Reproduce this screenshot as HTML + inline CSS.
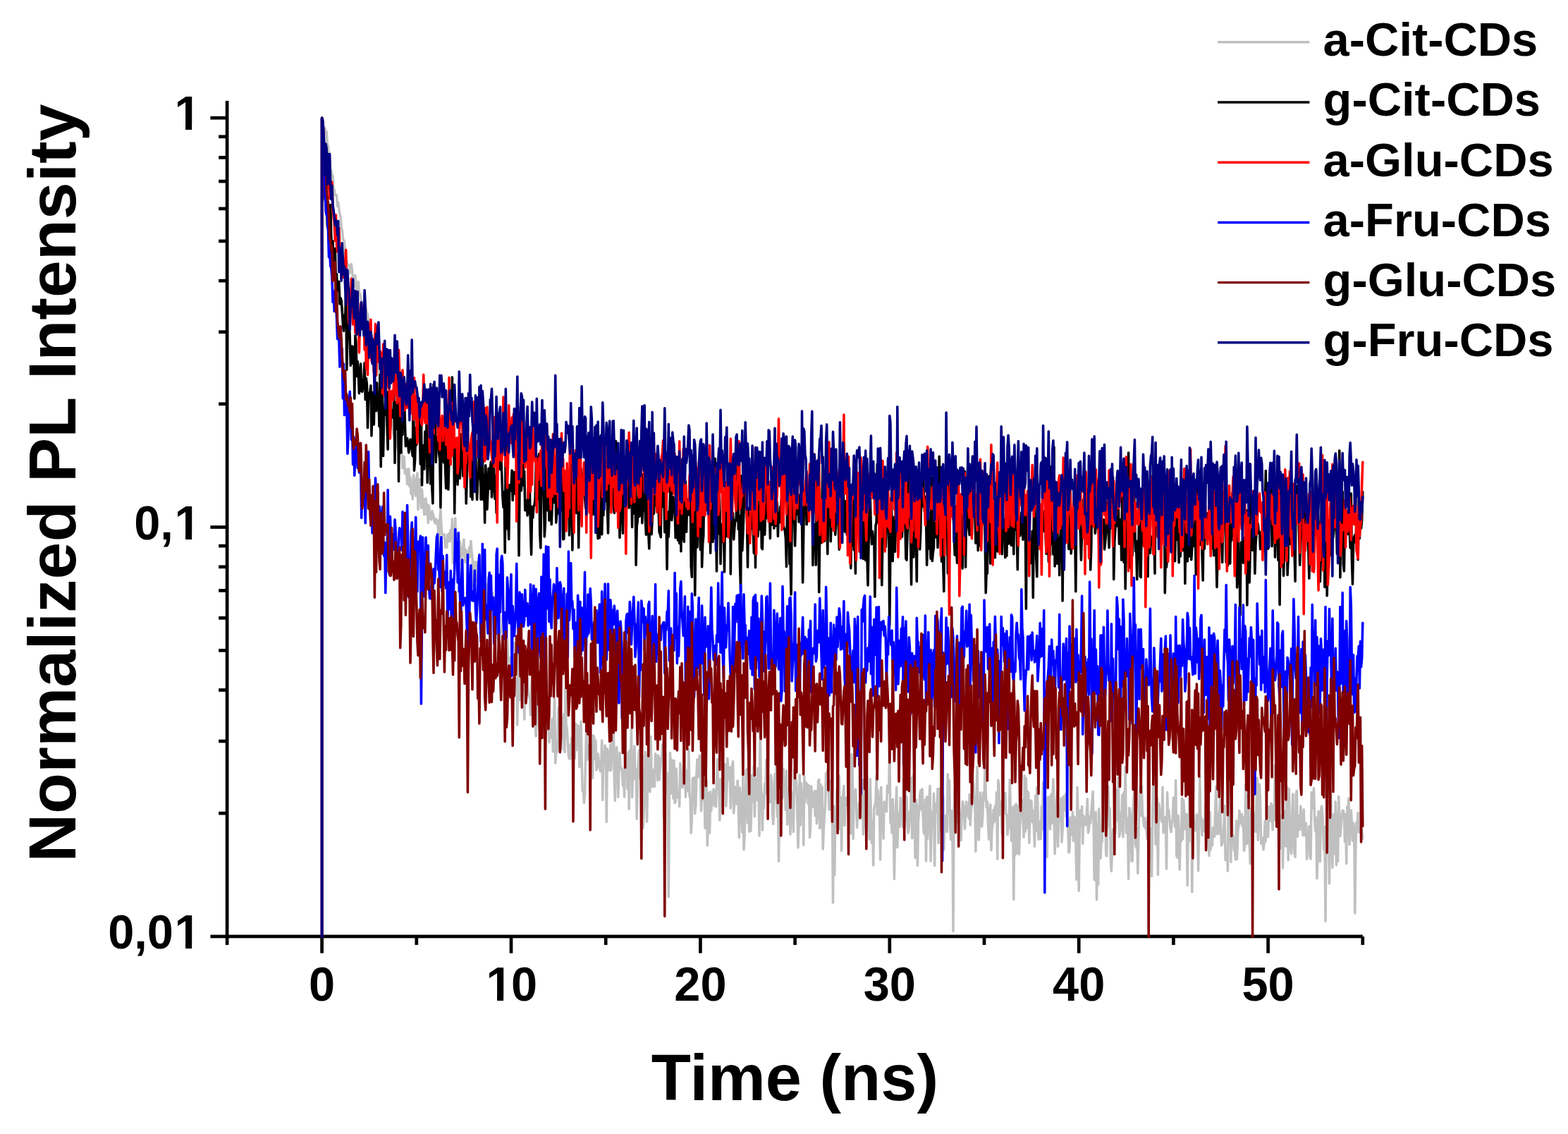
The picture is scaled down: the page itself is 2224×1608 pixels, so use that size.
<!DOCTYPE html>
<html lang="en"><head><meta charset="utf-8"><title>Normalized PL Intensity vs Time</title>
<style>html,body{margin:0;padding:0;background:#fff;}body{width:2224px;height:1608px;overflow:hidden;}svg{display:block;}text{font-family:"Liberation Sans",sans-serif;font-weight:bold;fill:#000;}</style></head><body>
<svg width="2224" height="1608" viewBox="0 0 2224 1608">
<rect width="2224" height="1608" fill="#fff"/>
<g stroke="#000" stroke-width="4.7" fill="none" stroke-linecap="butt">
<line x1="322.1" y1="143.0" x2="322.1" y2="1330.25"/>
<line x1="319.75" y1="1327.9" x2="1932.8" y2="1327.9"/>
<line x1="298.4" y1="167.2" x2="322.1" y2="167.2"/>
<line x1="310.1" y1="572.8" x2="322.1" y2="572.8"/>
<line x1="310.1" y1="470.7" x2="322.1" y2="470.7"/>
<line x1="310.1" y1="398.1" x2="322.1" y2="398.1"/>
<line x1="310.1" y1="341.9" x2="322.1" y2="341.9"/>
<line x1="310.1" y1="295.9" x2="322.1" y2="295.9"/>
<line x1="310.1" y1="257.1" x2="322.1" y2="257.1"/>
<line x1="310.1" y1="223.4" x2="322.1" y2="223.4"/>
<line x1="310.1" y1="193.8" x2="322.1" y2="193.8"/>
<line x1="298.4" y1="747.5" x2="322.1" y2="747.5"/>
<line x1="310.1" y1="1153.2" x2="322.1" y2="1153.2"/>
<line x1="310.1" y1="1051.0" x2="322.1" y2="1051.0"/>
<line x1="310.1" y1="978.5" x2="322.1" y2="978.5"/>
<line x1="310.1" y1="922.3" x2="322.1" y2="922.3"/>
<line x1="310.1" y1="876.3" x2="322.1" y2="876.3"/>
<line x1="310.1" y1="837.4" x2="322.1" y2="837.4"/>
<line x1="310.1" y1="803.8" x2="322.1" y2="803.8"/>
<line x1="310.1" y1="774.1" x2="322.1" y2="774.1"/>
<line x1="298.4" y1="1327.9" x2="322.1" y2="1327.9"/>
<line x1="322.1" y1="1327.9" x2="322.1" y2="1339.9"/>
<line x1="456.6" y1="1327.9" x2="456.6" y2="1351.6"/>
<line x1="590.8" y1="1327.9" x2="590.8" y2="1339.9"/>
<line x1="725.0" y1="1327.9" x2="725.0" y2="1351.6"/>
<line x1="859.2" y1="1327.9" x2="859.2" y2="1339.9"/>
<line x1="993.4" y1="1327.9" x2="993.4" y2="1351.6"/>
<line x1="1127.6" y1="1327.9" x2="1127.6" y2="1339.9"/>
<line x1="1261.8" y1="1327.9" x2="1261.8" y2="1351.6"/>
<line x1="1396.0" y1="1327.9" x2="1396.0" y2="1339.9"/>
<line x1="1530.2" y1="1327.9" x2="1530.2" y2="1351.6"/>
<line x1="1664.4" y1="1327.9" x2="1664.4" y2="1339.9"/>
<line x1="1798.6" y1="1327.9" x2="1798.6" y2="1351.6"/>
<line x1="1932.8" y1="1327.9" x2="1932.8" y2="1339.9"/>
</g>
<g id="traces">
<polyline points="456.6,1327.9 456.6,167.2 457.7,174.7 458.8,179.0 459.9,186.3 461.0,181.7 462.1,201.8 463.2,186.8 464.3,204.4 465.4,207.0 466.5,217.7 467.6,216.9 468.7,243.2 469.8,241.7 470.9,249.7 472.0,249.2 473.1,269.2 474.2,268.7 475.3,276.9 476.4,275.9 477.5,277.0 478.6,292.6 479.7,287.0 480.8,295.9 481.9,304.1 483.0,307.5 484.1,323.1 485.2,325.5 486.3,337.9 487.4,341.0 488.5,343.1 489.6,358.5 490.7,363.9 491.8,370.3 492.9,374.9 494.0,377.1 495.1,376.0 496.2,387.3 497.3,381.1 498.4,374.6 499.5,384.4 500.6,394.5 501.7,403.0 502.8,405.2 503.9,390.5 505.0,405.4 506.1,413.6 507.2,410.4 508.3,399.4 509.4,417.0 510.5,416.2 511.6,421.6 512.7,429.6 513.8,438.9 514.9,435.7 516.0,437.6 517.1,434.4 518.2,435.4 519.3,437.7 520.4,445.8 521.5,445.0 522.6,463.6 523.7,452.4 524.8,463.6 525.9,475.7 527.0,474.3 528.1,484.4 529.2,479.2 530.3,481.1 531.4,480.6 532.5,517.6 533.6,523.4 534.7,520.0 535.8,519.1 536.9,517.8 538.0,527.5 539.1,554.7 540.2,542.3 541.3,535.8 542.4,545.9 543.5,545.1 544.6,559.2 545.7,563.4 546.8,563.9 547.9,566.0 549.0,572.5 550.1,577.8 551.2,590.5 552.3,583.8 553.4,590.9 554.5,584.6 555.6,588.2 556.7,603.4 557.8,613.3 558.9,619.8 560.0,611.4 561.1,618.7 562.2,626.9 563.3,626.0 564.4,637.1 565.5,625.4 566.6,642.1 567.7,626.2 568.8,639.0 569.9,640.1 571.0,663.6 572.1,651.3 573.2,647.6 574.3,671.5 575.4,666.1 576.5,665.6 577.6,686.6 578.7,668.3 579.8,664.9 580.9,689.6 582.0,677.2 583.1,700.4 584.2,685.3 585.3,707.8 586.4,673.7 587.5,684.3 588.6,691.5 589.7,703.0 590.8,678.0 591.9,670.9 593.0,722.8 594.1,683.1 595.2,679.7 596.3,697.8 597.4,720.2 598.5,694.1 599.6,710.1 600.7,718.4 601.8,729.8 602.9,707.8 604.0,707.0 605.1,728.9 606.2,715.6 607.3,741.5 608.4,716.7 609.5,729.6 610.6,735.4 611.7,736.8 612.8,724.7 613.9,727.9 615.0,732.5 616.1,739.6 617.2,742.0 618.3,735.8 619.4,742.8 620.5,737.9 621.6,753.8 622.7,788.3 623.8,737.4 624.9,722.6 626.0,748.0 627.1,756.9 628.2,758.4 629.3,759.0 630.4,758.0 631.5,776.3 632.6,767.9 633.7,776.3 634.8,758.3 635.9,767.4 637.0,756.5 638.1,767.5 639.2,751.2 640.3,763.5 641.4,735.9 642.5,798.6 643.6,779.5 644.7,757.0 645.8,734.7 646.9,776.2 648.0,772.7 649.1,777.8 650.2,755.7 651.3,781.4 652.4,767.9 653.5,784.6 654.6,801.3 655.7,777.4 656.8,775.8 657.9,765.1 659.0,787.9 660.1,797.4 661.2,780.0 662.3,786.4 663.4,787.0 664.5,793.9 665.6,776.0 666.7,789.6 667.8,767.3 668.9,780.9 670.0,790.4 671.1,831.0 672.2,796.4 673.3,801.8 674.4,798.1 675.5,796.9 676.6,823.2 677.7,805.4 678.8,831.2 679.9,792.4 681.0,850.1 682.1,860.7 683.2,861.4 684.3,850.2 685.4,857.0 686.5,806.9 687.6,848.0 688.7,869.3 689.8,828.3 690.9,861.0 692.0,876.1 693.1,840.6 694.2,847.7 695.3,869.7 696.4,839.5 697.5,864.9 698.6,841.2 699.7,863.7 700.8,847.5 701.9,876.5 703.0,905.3 704.1,840.1 705.2,897.6 706.3,893.7 707.4,906.5 708.5,899.4 709.6,893.5 710.7,897.1 711.8,891.0 712.9,872.5 714.0,911.9 715.1,938.1 716.2,939.9 717.3,931.8 718.4,956.8 719.5,906.9 720.6,936.9 721.7,935.7 722.8,932.1 723.9,965.5 725.0,956.4 726.1,926.3 727.2,930.2 728.3,955.8 729.4,911.5 730.5,981.4 731.6,962.2 732.7,962.5 733.8,1028.0 734.9,922.0 736.0,957.6 737.1,993.0 738.2,927.5 739.3,961.1 740.4,967.3 741.5,993.7 742.6,978.6 743.7,1019.9 744.8,966.2 745.9,994.8 747.0,984.4 748.1,961.9 749.2,984.1 750.3,986.3 751.4,987.6 752.5,1013.6 753.6,977.8 754.7,963.6 755.8,982.7 756.9,981.4 758.0,1025.7 759.1,1027.1 760.2,1043.9 761.3,979.7 762.4,1016.6 763.5,979.0 764.6,1033.4 765.7,1026.2 766.8,1014.5 767.9,996.1 769.0,1018.6 770.1,1016.4 771.2,1022.9 772.3,1020.5 773.4,1056.0 774.5,1026.2 775.6,1034.6 776.7,1032.9 777.8,1020.7 778.9,1052.7 780.0,1038.5 781.1,1045.7 782.2,1028.1 783.3,1019.5 784.4,1065.7 785.5,1025.6 786.6,990.7 787.7,1082.2 788.8,1064.6 789.9,1066.6 791.0,1050.8 792.1,1003.6 793.2,1044.2 794.3,1063.8 795.4,1029.7 796.5,1062.4 797.6,1018.3 798.7,1039.4 799.8,1012.9 800.9,1066.5 802.0,976.2 803.1,1028.5 804.2,1033.3 805.3,1052.2 806.4,1071.3 807.5,1075.9 808.6,1056.2 809.7,1075.1 810.8,1046.3 811.9,1077.1 813.0,1038.6 814.1,1030.6 815.2,1075.5 816.3,1025.8 817.4,1063.7 818.5,1027.8 819.6,1046.7 820.7,1029.8 821.8,1087.5 822.9,1063.0 824.0,1023.2 825.1,1078.4 826.2,1121.7 827.3,1119.4 828.4,1138.4 829.5,1126.1 830.6,1075.5 831.7,1031.3 832.8,1077.5 833.9,1057.1 835.0,1069.4 836.1,1066.7 837.2,1072.2 838.3,1072.9 839.4,1056.2 840.5,1103.2 841.6,1042.9 842.7,1045.8 843.8,1076.4 844.9,1049.9 846.0,1092.1 847.1,1087.9 848.2,1069.0 849.3,1079.1 850.4,1086.9 851.5,1093.8 852.6,1090.8 853.7,1050.0 854.8,1134.4 855.9,1066.4 857.0,1083.2 858.1,1057.1 859.2,1063.2 860.3,1165.4 861.4,1062.1 862.5,1069.5 863.6,1078.3 864.7,1092.7 865.8,1056.4 866.9,1091.9 868.0,1032.0 869.1,1065.3 870.2,1025.3 871.3,1104.6 872.4,1135.4 873.5,1062.8 874.6,1059.5 875.7,1082.3 876.8,1130.1 877.9,1097.0 879.0,1067.3 880.1,1090.2 881.2,1088.6 882.3,1090.7 883.4,1113.7 884.5,1102.0 885.6,1130.0 886.7,1039.8 887.8,1101.5 888.9,1074.7 890.0,1119.0 891.1,1066.8 892.2,1147.3 893.3,1064.1 894.4,1091.1 895.5,1034.1 896.6,1130.5 897.7,1089.1 898.8,1081.2 899.9,1058.1 901.0,1104.9 902.1,1090.4 903.2,1161.1 904.3,1118.5 905.4,1081.2 906.5,1063.7 907.6,1103.1 908.7,1039.8 909.8,1047.7 910.9,1097.8 912.0,1174.3 913.1,1152.6 914.2,1120.7 915.3,1066.4 916.4,1089.1 917.5,1165.3 918.6,1105.6 919.7,1054.7 920.8,1110.8 921.9,1122.7 923.0,1044.5 924.1,1099.3 925.2,1115.6 926.3,1091.5 927.4,1101.5 928.5,1115.3 929.6,1068.7 930.7,1071.5 931.8,1079.4 932.9,1106.8 934.0,1071.5 935.1,1105.8 936.2,1091.1 937.3,1075.5 938.4,1082.0 939.5,1055.9 940.6,1092.7 941.7,1159.8 942.8,1142.6 943.9,1068.6 945.0,1117.0 946.1,1096.0 947.2,1133.9 948.3,1271.7 949.4,1119.9 950.5,1067.4 951.6,1125.1 952.7,1077.2 953.8,1089.9 954.9,1132.0 956.0,1078.6 957.1,1138.4 958.2,1136.2 959.3,1090.0 960.4,1130.5 961.5,1129.9 962.6,1122.4 963.7,1143.5 964.8,1082.3 965.9,1095.0 967.0,1115.2 968.1,1116.7 969.2,1100.4 970.3,1064.2 971.4,1088.9 972.5,1130.3 973.6,1092.2 974.7,1118.9 975.8,1121.6 976.9,1063.2 978.0,1129.1 979.1,1131.3 980.2,1181.2 981.3,1162.2 982.4,1103.9 983.5,1139.4 984.6,1102.6 985.7,1153.8 986.8,1142.7 987.9,1098.9 989.0,1077.1 990.1,1101.9 991.2,1084.9 992.3,1071.4 993.4,1089.9 994.5,1149.9 995.6,1124.3 996.7,1102.5 997.8,1134.6 998.9,1108.4 1000.0,1174.1 1001.1,1148.9 1002.2,1107.0 1003.3,1199.1 1004.4,1159.1 1005.5,1124.3 1006.6,1181.1 1007.7,1122.5 1008.8,1149.7 1009.9,1133.5 1011.0,1132.6 1012.1,1118.8 1013.2,1142.5 1014.3,1122.0 1015.4,1143.9 1016.5,1108.2 1017.6,1076.2 1018.7,1119.2 1019.8,1120.1 1020.9,1163.1 1022.0,1104.7 1023.1,1149.7 1024.2,1151.5 1025.3,1109.0 1026.4,1120.3 1027.5,1093.2 1028.6,1083.9 1029.7,1143.2 1030.8,1122.3 1031.9,1075.5 1033.0,1097.7 1034.1,1105.1 1035.2,1088.3 1036.3,1145.9 1037.4,1107.7 1038.5,1085.7 1039.6,1079.9 1040.7,1152.9 1041.8,1135.1 1042.9,1115.7 1044.0,1136.5 1045.1,1139.9 1046.2,1107.0 1047.3,1138.8 1048.4,1187.8 1049.5,1116.9 1050.6,1141.4 1051.7,1151.5 1052.8,1180.2 1053.9,1098.1 1055.0,1204.8 1056.1,1185.3 1057.2,1137.3 1058.3,1092.4 1059.4,1090.2 1060.5,1166.6 1061.6,1134.5 1062.7,1179.2 1063.8,1099.0 1064.9,1178.2 1066.0,1133.9 1067.1,1098.7 1068.2,1136.6 1069.3,1086.5 1070.4,1157.9 1071.5,1118.6 1072.6,1104.3 1073.7,1134.4 1074.8,1089.3 1075.9,1113.6 1077.0,1185.2 1078.1,1023.5 1079.2,1110.9 1080.3,1127.3 1081.4,1177.1 1082.5,1128.3 1083.6,1145.6 1084.7,1111.5 1085.8,1119.7 1086.9,1077.4 1088.0,1126.9 1089.1,1115.7 1090.2,1120.1 1091.3,1136.3 1092.4,1137.5 1093.5,1098.9 1094.6,1108.3 1095.7,1152.2 1096.8,1168.6 1097.9,1134.3 1099.0,1097.6 1100.1,1133.3 1101.2,1081.5 1102.3,1157.7 1103.4,1128.3 1104.5,1221.3 1105.6,1152.0 1106.7,1142.8 1107.8,1117.4 1108.9,1083.1 1110.0,1132.2 1111.1,1090.4 1112.2,1113.3 1113.3,1103.9 1114.4,1148.6 1115.5,1092.7 1116.6,1169.1 1117.7,1118.8 1118.8,1165.2 1119.9,1150.8 1121.0,1183.2 1122.1,1150.9 1123.2,1123.6 1124.3,1136.7 1125.4,1179.6 1126.5,1091.1 1127.6,1124.4 1128.7,1104.5 1129.8,1111.1 1130.9,1156.6 1132.0,1202.0 1133.1,1165.3 1134.2,1098.7 1135.3,1170.2 1136.4,1110.8 1137.5,1155.5 1138.6,1123.6 1139.7,1198.3 1140.8,1100.9 1141.9,1137.4 1143.0,1109.3 1144.1,1130.4 1145.2,1112.1 1146.3,1139.7 1147.4,1113.9 1148.5,1187.6 1149.6,1172.5 1150.7,1114.7 1151.8,1138.2 1152.9,1144.4 1154.0,1142.9 1155.1,1121.8 1156.2,1156.6 1157.3,1121.7 1158.4,1167.7 1159.5,1150.8 1160.6,1107.9 1161.7,1105.4 1162.8,1174.4 1163.9,1112.4 1165.0,1172.6 1166.1,1115.8 1167.2,1203.9 1168.3,1175.6 1169.4,1155.0 1170.5,1144.0 1171.6,1096.2 1172.7,1111.2 1173.8,1092.1 1174.9,1102.6 1176.0,1148.2 1177.1,1147.8 1178.2,1106.9 1179.3,1138.2 1180.4,1144.5 1181.5,1279.9 1182.6,1143.1 1183.7,1241.1 1184.8,1154.7 1185.9,1172.5 1187.0,1118.7 1188.1,1155.7 1189.2,1150.9 1190.3,1099.9 1191.4,1175.4 1192.5,1130.7 1193.6,1206.4 1194.7,1138.0 1195.8,1128.1 1196.9,1114.6 1198.0,1170.8 1199.1,1131.2 1200.2,1131.3 1201.3,1142.0 1202.4,1136.7 1203.5,1127.1 1204.6,1129.2 1205.7,1174.9 1206.8,1182.1 1207.9,1069.4 1209.0,1085.3 1210.1,1189.4 1211.2,1128.2 1212.3,1122.9 1213.4,1119.2 1214.5,1138.1 1215.6,1173.5 1216.7,1148.6 1217.8,1158.9 1218.9,1138.7 1220.0,1151.7 1221.1,1147.4 1222.2,1112.0 1223.3,1105.9 1224.4,1183.2 1225.5,1158.5 1226.6,1169.8 1227.7,1106.5 1228.8,1145.7 1229.9,1100.2 1231.0,1159.6 1232.1,1143.3 1233.2,1190.1 1234.3,1104.7 1235.4,1156.2 1236.5,1195.4 1237.6,1164.1 1238.7,1227.1 1239.8,1145.8 1240.9,1141.3 1242.0,1135.9 1243.1,1099.9 1244.2,1155.0 1245.3,1120.2 1246.4,1135.5 1247.5,1151.7 1248.6,1219.0 1249.7,1116.4 1250.8,1162.3 1251.9,1145.3 1253.0,1189.2 1254.1,1137.1 1255.2,1142.7 1256.3,1145.3 1257.4,1150.7 1258.5,1114.1 1259.6,1116.7 1260.7,1124.0 1261.8,1052.5 1262.9,1166.7 1264.0,1159.4 1265.1,1181.2 1266.2,1133.4 1267.3,1170.1 1268.4,1246.4 1269.5,1188.7 1270.6,1145.2 1271.7,1116.4 1272.8,1201.6 1273.9,1168.1 1275.0,1152.4 1276.1,1172.3 1277.2,1131.4 1278.3,1148.1 1279.4,1138.1 1280.5,1172.6 1281.6,1101.9 1282.7,1148.6 1283.8,1109.1 1284.9,1163.3 1286.0,1130.3 1287.1,1171.6 1288.2,1181.2 1289.3,1172.7 1290.4,1150.8 1291.5,1156.5 1292.6,1102.7 1293.7,1188.7 1294.8,1186.7 1295.9,1098.4 1297.0,1130.7 1298.1,1216.5 1299.2,1134.3 1300.3,1142.6 1301.4,1227.2 1302.5,1162.5 1303.6,1151.0 1304.7,1127.6 1305.8,1120.9 1306.9,1147.7 1308.0,1118.7 1309.1,1155.7 1310.2,1180.0 1311.3,1182.8 1312.4,1134.0 1313.5,1221.1 1314.6,1130.0 1315.7,1189.3 1316.8,1163.5 1317.9,1135.7 1319.0,1114.2 1320.1,1221.0 1321.2,1179.2 1322.3,1150.5 1323.4,1172.1 1324.5,1125.3 1325.6,1227.4 1326.7,1140.9 1327.8,1139.0 1328.9,1151.1 1330.0,1118.5 1331.1,1195.3 1332.2,1118.5 1333.3,1176.7 1334.4,1130.3 1335.5,1164.0 1336.6,1127.7 1337.7,1128.9 1338.8,1204.7 1339.9,1158.8 1341.0,1156.8 1342.1,1161.7 1343.2,1179.4 1344.3,1097.9 1345.4,1147.3 1346.5,1106.4 1347.6,1173.2 1348.7,1190.6 1349.8,1149.9 1350.9,1173.1 1352.0,1320.4 1353.1,1146.4 1354.2,1118.5 1355.3,1161.9 1356.4,1165.3 1357.5,1155.6 1358.6,1143.2 1359.7,1127.9 1360.8,1158.7 1361.9,1177.7 1363.0,1191.4 1364.1,1157.4 1365.2,1136.6 1366.3,1140.3 1367.4,1155.6 1368.5,1175.2 1369.6,1150.3 1370.7,1136.9 1371.8,1156.4 1372.9,1151.6 1374.0,1160.2 1375.1,1126.5 1376.2,1170.0 1377.3,1149.4 1378.4,1142.8 1379.5,1132.5 1380.6,1109.5 1381.7,1134.1 1382.8,1136.5 1383.9,1207.3 1385.0,1136.4 1386.1,1087.2 1387.2,1184.1 1388.3,1190.9 1389.4,1163.1 1390.5,1123.9 1391.6,1139.2 1392.7,1172.1 1393.8,1157.3 1394.9,1123.6 1396.0,1134.8 1397.1,1083.9 1398.2,1124.7 1399.3,1145.0 1400.4,1136.8 1401.5,1168.1 1402.6,1190.1 1403.7,1151.0 1404.8,1140.9 1405.9,1205.5 1407.0,1174.3 1408.1,1169.1 1409.2,1148.2 1410.3,1165.5 1411.4,1142.6 1412.5,1153.8 1413.6,1123.7 1414.7,1218.0 1415.8,1106.3 1416.9,1113.2 1418.0,1155.6 1419.1,1136.5 1420.2,1137.9 1421.3,1182.4 1422.4,1152.0 1423.5,1132.7 1424.6,1147.5 1425.7,1124.5 1426.8,1154.5 1427.9,1155.0 1429.0,1183.8 1430.1,1169.9 1431.2,1173.2 1432.3,1105.5 1433.4,1150.1 1434.5,1192.4 1435.6,1145.1 1436.7,1164.4 1437.8,1275.4 1438.9,1142.7 1440.0,1213.1 1441.1,1139.7 1442.2,1191.3 1443.3,1209.7 1444.4,1142.4 1445.5,1211.2 1446.6,1173.5 1447.7,1151.9 1448.8,1138.9 1449.9,1134.8 1451.0,1159.9 1452.1,1187.2 1453.2,1100.1 1454.3,1179.3 1455.4,1103.6 1456.5,1174.1 1457.6,1122.5 1458.7,1125.3 1459.8,1195.2 1460.9,1147.6 1462.0,1135.0 1463.1,1136.8 1464.2,1165.9 1465.3,1149.5 1466.4,1172.6 1467.5,1200.2 1468.6,1128.3 1469.7,1178.4 1470.8,1116.5 1471.9,1140.2 1473.0,1190.3 1474.1,1165.0 1475.2,1169.3 1476.3,1189.7 1477.4,1143.6 1478.5,1176.0 1479.6,1109.5 1480.7,1132.6 1481.8,1190.3 1482.9,1160.7 1484.0,1167.7 1485.1,1215.8 1486.2,1130.6 1487.3,1130.1 1488.4,1130.9 1489.5,1175.8 1490.6,1126.6 1491.7,1167.5 1492.8,1130.8 1493.9,1104.9 1495.0,1156.0 1496.1,1210.8 1497.2,1171.3 1498.3,1140.1 1499.4,1122.4 1500.5,1200.4 1501.6,1167.3 1502.7,1153.3 1503.8,1146.9 1504.9,1132.0 1506.0,1193.9 1507.1,1175.4 1508.2,1129.2 1509.3,1148.5 1510.4,1146.7 1511.5,1125.8 1512.6,1157.9 1513.7,1144.3 1514.8,1172.0 1515.9,1209.0 1517.0,1207.2 1518.1,1159.2 1519.2,1168.3 1520.3,1184.1 1521.4,1151.4 1522.5,1192.5 1523.6,1158.2 1524.7,1162.6 1525.8,1190.9 1526.9,1247.3 1528.0,1116.6 1529.1,1151.7 1530.2,1263.2 1531.3,1176.6 1532.4,1149.4 1533.5,1169.9 1534.6,1143.6 1535.7,1196.2 1536.8,1156.7 1537.9,1164.3 1539.0,1168.7 1540.1,1170.0 1541.2,1156.1 1542.3,1132.9 1543.4,1180.8 1544.5,1176.6 1545.6,1157.5 1546.7,1166.9 1547.8,1150.3 1548.9,1139.8 1550.0,1122.4 1551.1,1167.0 1552.2,1247.8 1553.3,1165.5 1554.4,1151.6 1555.5,1275.7 1556.6,1168.4 1557.7,1254.6 1558.8,1146.9 1559.9,1174.4 1561.0,1217.5 1562.1,1193.7 1563.2,1193.5 1564.3,1143.9 1565.4,1145.5 1566.5,1116.4 1567.6,1142.8 1568.7,1211.8 1569.8,1214.0 1570.9,1128.0 1572.0,1115.1 1573.1,1172.0 1574.2,1145.9 1575.3,1217.9 1576.4,1235.3 1577.5,1205.5 1578.6,1176.4 1579.7,1182.1 1580.8,1172.1 1581.9,1181.1 1583.0,1142.5 1584.1,1119.7 1585.2,1163.4 1586.3,1102.3 1587.4,1186.4 1588.5,1182.6 1589.6,1152.0 1590.7,1176.8 1591.8,1127.5 1592.9,1186.9 1594.0,1123.2 1595.1,1158.6 1596.2,1087.8 1597.3,1180.9 1598.4,1172.0 1599.5,1160.4 1600.6,1246.3 1601.7,1145.7 1602.8,1149.6 1603.9,1161.8 1605.0,1220.9 1606.1,1221.1 1607.2,1146.4 1608.3,1128.2 1609.4,1115.8 1610.5,1196.8 1611.6,1201.8 1612.7,1175.0 1613.8,1238.5 1614.9,1186.1 1616.0,1138.5 1617.1,1114.9 1618.2,1156.8 1619.3,1114.8 1620.4,1152.6 1621.5,1159.8 1622.6,1172.0 1623.7,1160.1 1624.8,1174.9 1625.9,1171.1 1627.0,1189.2 1628.1,1157.9 1629.2,1166.0 1630.3,1219.7 1631.4,1174.7 1632.5,1196.4 1633.6,1242.5 1634.7,1150.9 1635.8,1117.9 1636.9,1094.7 1638.0,1117.9 1639.1,1197.3 1640.2,1129.5 1641.3,1131.2 1642.4,1240.4 1643.5,1139.3 1644.6,1146.7 1645.7,1161.7 1646.8,1157.7 1647.9,1165.3 1649.0,1116.2 1650.1,1181.0 1651.2,1174.1 1652.3,1167.2 1653.4,1158.3 1654.5,1231.9 1655.6,1123.6 1656.7,1160.1 1657.8,1149.0 1658.9,1161.1 1660.0,1174.0 1661.1,1179.8 1662.2,1164.6 1663.3,1162.7 1664.4,1130.9 1665.5,1156.5 1666.6,1172.4 1667.7,1106.5 1668.8,1213.6 1669.9,1216.0 1671.0,1156.4 1672.1,1175.3 1673.2,1233.1 1674.3,1178.8 1675.4,1192.9 1676.5,1132.1 1677.6,1189.8 1678.7,1134.6 1679.8,1153.3 1680.9,1175.5 1682.0,1167.8 1683.1,1154.4 1684.2,1255.6 1685.3,1157.8 1686.4,1181.6 1687.5,1112.6 1688.6,1192.7 1689.7,1132.2 1690.8,1264.8 1691.9,1142.4 1693.0,1159.7 1694.1,1177.3 1695.2,1173.1 1696.3,1177.9 1697.4,1155.1 1698.5,1173.7 1699.6,1234.7 1700.7,1175.5 1701.8,1100.6 1702.9,1167.7 1704.0,1159.7 1705.1,1184.4 1706.2,1163.6 1707.3,1163.5 1708.4,1178.4 1709.5,1141.5 1710.6,1202.0 1711.7,1174.0 1712.8,1153.0 1713.9,1178.8 1715.0,1213.4 1716.1,1151.4 1717.2,1204.4 1718.3,1185.2 1719.4,1198.9 1720.5,1173.7 1721.6,1184.7 1722.7,1186.3 1723.8,1147.8 1724.9,1114.9 1726.0,1182.4 1727.1,1152.9 1728.2,1182.4 1729.3,1166.9 1730.4,1134.0 1731.5,1168.6 1732.6,1198.9 1733.7,1195.9 1734.8,1191.8 1735.9,1170.9 1737.0,1142.6 1738.1,1219.5 1739.2,1207.3 1740.3,1203.2 1741.4,1235.0 1742.5,1128.4 1743.6,1172.0 1744.7,1111.5 1745.8,1222.3 1746.9,1129.5 1748.0,1195.4 1749.1,1185.0 1750.2,1206.0 1751.3,1204.6 1752.4,1218.7 1753.5,1163.9 1754.6,1218.4 1755.7,1179.5 1756.8,1171.6 1757.9,1149.4 1759.0,1168.0 1760.1,1160.7 1761.2,1154.4 1762.3,1172.0 1763.4,1159.4 1764.5,1206.2 1765.6,1198.7 1766.7,1112.3 1767.8,1172.1 1768.9,1196.5 1770.0,1127.7 1771.1,1177.1 1772.2,1194.3 1773.3,1224.4 1774.4,1146.4 1775.5,1210.6 1776.6,1190.7 1777.7,1150.8 1778.8,1165.9 1779.9,1175.0 1781.0,1179.5 1782.1,1135.3 1783.2,1103.3 1784.3,1191.3 1785.4,1153.5 1786.5,1112.1 1787.6,1137.5 1788.7,1196.4 1789.8,1187.3 1790.9,1193.3 1792.0,1204.8 1793.1,1194.3 1794.2,1163.9 1795.3,1193.1 1796.4,1144.1 1797.5,1168.6 1798.6,1186.5 1799.7,1143.9 1800.8,1162.2 1801.9,1164.0 1803.0,1139.2 1804.1,1154.0 1805.2,1176.7 1806.3,1142.6 1807.4,1162.8 1808.5,1085.1 1809.6,1137.7 1810.7,1136.0 1811.8,1131.8 1812.9,1170.6 1814.0,1131.2 1815.1,1172.6 1816.2,1202.8 1817.3,1193.1 1818.4,1156.0 1819.5,1230.7 1820.6,1166.6 1821.7,1199.2 1822.8,1150.1 1823.9,1199.9 1825.0,1115.0 1826.1,1148.6 1827.2,1219.6 1828.3,1118.4 1829.4,1181.7 1830.5,1199.5 1831.6,1210.5 1832.7,1155.2 1833.8,1126.1 1834.9,1194.3 1836.0,1209.7 1837.1,1215.1 1838.2,1126.5 1839.3,1121.4 1840.4,1186.4 1841.5,1156.5 1842.6,1174.5 1843.7,1176.5 1844.8,1143.1 1845.9,1159.8 1847.0,1163.5 1848.1,1184.7 1849.2,1147.9 1850.3,1184.4 1851.4,1173.0 1852.5,1167.4 1853.6,1218.1 1854.7,1185.2 1855.8,1185.7 1856.9,1171.5 1858.0,1214.9 1859.1,1217.8 1860.2,1123.5 1861.3,1137.6 1862.4,1146.0 1863.5,1117.6 1864.6,1161.2 1865.7,1178.4 1866.8,1159.2 1867.9,1245.6 1869.0,1214.8 1870.1,1150.4 1871.2,1174.4 1872.3,1221.8 1873.4,1153.8 1874.5,1143.0 1875.6,1153.5 1876.7,1176.7 1877.8,1205.3 1878.9,1172.1 1880.0,1306.2 1881.1,1188.3 1882.2,1155.9 1883.3,1165.3 1884.4,1164.8 1885.5,1252.7 1886.6,1140.9 1887.7,1121.4 1888.8,1190.1 1889.9,1230.3 1891.0,1155.0 1892.1,1192.5 1893.2,1210.8 1894.3,1136.9 1895.4,1226.8 1896.5,1152.7 1897.6,1221.6 1898.7,1129.6 1899.8,1159.3 1900.9,1185.5 1902.0,1171.5 1903.1,1157.3 1904.2,1149.4 1905.3,1149.5 1906.4,1158.5 1907.5,1193.5 1908.6,1154.8 1909.7,1224.6 1910.8,1144.1 1911.9,1148.3 1913.0,1132.1 1914.1,1197.7 1915.2,1170.8 1916.3,1148.9 1917.4,1166.5 1918.5,1192.1 1919.6,1166.9 1920.7,1175.0 1921.8,1294.9 1922.9,1199.5 1924.0,1166.0 1925.1,1167.6 1926.2,1152.4 1927.3,1180.0 1928.4,1173.2 1929.5,1180.1 1930.6,1176.5 1931.7,1177.4 1932.8,1189.1" fill="none" stroke="#C0C0C0" stroke-width="3.55" stroke-linejoin="round" stroke-linecap="round"/>
<polyline points="456.6,1327.9 456.6,167.2 457.7,189.5 458.8,241.2 459.9,224.2 461.0,281.4 462.1,288.3 463.2,282.7 464.3,319.6 465.4,324.2 466.5,329.4 467.6,311.8 468.7,290.5 469.8,335.6 470.9,364.8 472.0,341.8 473.1,370.5 474.2,367.1 475.3,352.4 476.4,396.9 477.5,388.4 478.6,411.9 479.7,402.4 480.8,399.4 481.9,431.0 483.0,422.5 484.1,425.7 485.2,439.9 486.3,457.9 487.4,469.3 488.5,447.0 489.6,456.4 490.7,409.4 491.8,524.3 492.9,467.7 494.0,468.4 495.1,452.5 496.2,478.4 497.3,518.4 498.4,500.7 499.5,490.9 500.6,515.5 501.7,492.0 502.8,565.3 503.9,475.9 505.0,485.2 506.1,533.6 507.2,512.5 508.3,530.3 509.4,557.7 510.5,536.1 511.6,515.9 512.7,554.5 513.8,555.4 514.9,548.1 516.0,535.4 517.1,514.7 518.2,566.6 519.3,536.3 520.4,545.0 521.5,606.6 522.6,564.5 523.7,557.4 524.8,555.8 525.9,546.8 527.0,617.9 528.1,556.3 529.2,577.9 530.3,601.9 531.4,546.2 532.5,541.9 533.6,582.8 534.7,543.0 535.8,579.0 536.9,568.1 538.0,604.8 539.1,531.2 540.2,661.7 541.3,580.7 542.4,560.5 543.5,646.6 544.6,589.7 545.7,588.4 546.8,564.6 547.9,555.0 549.0,604.4 550.1,637.2 551.2,555.5 552.3,560.2 553.4,609.7 554.5,586.0 555.6,585.8 556.7,581.2 557.8,592.4 558.9,559.1 560.0,656.4 561.1,570.5 562.2,590.1 563.3,608.7 564.4,568.8 565.5,682.6 566.6,570.5 567.7,593.4 568.8,642.0 569.9,593.4 571.0,616.6 572.1,535.9 573.2,556.1 574.3,596.0 575.4,632.8 576.5,629.1 577.6,621.6 578.7,629.9 579.8,641.9 580.9,632.4 582.0,623.0 583.1,631.4 584.2,638.1 585.3,646.6 586.4,544.9 587.5,667.2 588.6,652.3 589.7,606.5 590.8,631.0 591.9,608.5 593.0,598.1 594.1,585.5 595.2,601.2 596.3,658.1 597.4,592.4 598.5,687.9 599.6,631.6 600.7,645.0 601.8,665.3 602.9,612.1 604.0,637.4 605.1,600.9 606.2,684.4 607.3,607.8 608.4,619.3 609.5,631.9 610.6,686.0 611.7,646.0 612.8,692.4 613.9,713.8 615.0,545.0 616.1,609.5 617.2,586.0 618.3,655.4 619.4,619.5 620.5,620.0 621.6,623.5 622.7,643.1 623.8,651.4 624.9,719.7 626.0,625.3 627.1,631.7 628.2,610.7 629.3,655.7 630.4,593.4 631.5,662.8 632.6,692.4 633.7,618.8 634.8,665.2 635.9,694.1 637.0,646.2 638.1,626.5 639.2,643.5 640.3,635.8 641.4,534.9 642.5,626.6 643.6,605.5 644.7,727.7 645.8,642.7 646.9,630.1 648.0,668.4 649.1,687.2 650.2,643.7 651.3,668.0 652.4,678.3 653.5,621.0 654.6,615.7 655.7,648.7 656.8,675.0 657.9,642.6 659.0,632.9 660.1,639.6 661.2,714.0 662.3,673.0 663.4,649.7 664.5,641.5 665.6,631.1 666.7,637.9 667.8,704.3 668.9,688.8 670.0,708.5 671.1,607.2 672.2,658.8 673.3,646.8 674.4,631.8 675.5,677.7 676.6,708.5 677.7,682.0 678.8,672.6 679.9,619.2 681.0,639.3 682.1,708.2 683.2,646.7 684.3,644.8 685.4,708.6 686.5,674.1 687.6,741.2 688.7,659.8 689.8,682.6 690.9,722.1 692.0,697.4 693.1,664.4 694.2,692.9 695.3,663.2 696.4,655.1 697.5,704.9 698.6,685.9 699.7,606.6 700.8,671.5 701.9,707.1 703.0,674.5 704.1,727.3 705.2,639.6 706.3,665.1 707.4,642.0 708.5,648.3 709.6,665.8 710.7,646.8 711.8,673.5 712.9,704.9 714.0,719.3 715.1,697.8 716.2,783.8 717.3,622.6 718.4,749.6 719.5,686.2 720.6,734.1 721.7,764.7 722.8,687.7 723.9,696.3 725.0,691.5 726.1,667.0 727.2,709.5 728.3,673.7 729.4,669.5 730.5,700.2 731.6,698.8 732.7,670.0 733.8,687.3 734.9,684.1 736.0,787.7 737.1,688.3 738.2,677.2 739.3,695.6 740.4,678.9 741.5,627.7 742.6,688.1 743.7,668.0 744.8,723.6 745.9,723.9 747.0,709.7 748.1,730.9 749.2,692.5 750.3,727.8 751.4,698.9 752.5,748.8 753.6,786.4 754.7,718.4 755.8,734.1 756.9,717.9 758.0,716.5 759.1,706.7 760.2,657.7 761.3,647.3 762.4,668.7 763.5,707.7 764.6,643.6 765.7,755.1 766.8,777.0 767.9,685.4 769.0,695.3 770.1,700.5 771.2,694.4 772.3,761.0 773.4,740.7 774.5,653.5 775.6,660.4 776.7,723.7 777.8,631.7 778.9,738.1 780.0,718.4 781.1,686.5 782.2,743.7 783.3,715.7 784.4,703.9 785.5,712.5 786.6,667.2 787.7,676.9 788.8,740.9 789.9,724.2 791.0,692.0 792.1,701.2 793.2,729.0 794.3,683.8 795.4,670.2 796.5,723.3 797.6,671.6 798.7,764.7 799.8,764.4 800.9,682.1 802.0,732.3 803.1,739.0 804.2,710.4 805.3,726.5 806.4,689.0 807.5,759.0 808.6,715.2 809.7,599.5 810.8,697.5 811.9,780.1 813.0,680.4 814.1,682.3 815.2,654.2 816.3,696.9 817.4,727.5 818.5,653.9 819.6,677.4 820.7,776.5 821.8,676.5 822.9,712.1 824.0,664.5 825.1,717.8 826.2,675.8 827.3,696.9 828.4,683.1 829.5,705.1 830.6,720.3 831.7,702.2 832.8,682.1 833.9,689.8 835.0,649.5 836.1,689.9 837.2,682.6 838.3,634.5 839.4,703.4 840.5,686.6 841.6,729.4 842.7,704.8 843.8,649.8 844.9,695.3 846.0,656.3 847.1,749.1 848.2,763.6 849.3,696.1 850.4,762.6 851.5,619.0 852.6,663.9 853.7,757.8 854.8,714.5 855.9,730.6 857.0,693.3 858.1,710.9 859.2,675.5 860.3,657.6 861.4,717.5 862.5,756.0 863.6,688.8 864.7,715.7 865.8,668.9 866.9,715.4 868.0,679.9 869.1,697.5 870.2,717.2 871.3,727.4 872.4,684.3 873.5,625.4 874.6,680.2 875.7,715.5 876.8,684.9 877.9,706.5 879.0,762.4 880.1,699.5 881.2,656.9 882.3,723.3 883.4,756.3 884.5,693.5 885.6,648.1 886.7,677.8 887.8,675.2 888.9,633.7 890.0,655.3 891.1,686.1 892.2,720.1 893.3,707.1 894.4,716.3 895.5,681.8 896.6,747.5 897.7,658.5 898.8,707.4 899.9,728.4 901.0,683.5 902.1,801.2 903.2,746.2 904.3,739.1 905.4,683.7 906.5,732.6 907.6,663.3 908.7,731.1 909.8,694.7 910.9,741.8 912.0,672.7 913.1,724.0 914.2,695.2 915.3,733.6 916.4,758.2 917.5,723.5 918.6,675.3 919.7,755.6 920.8,778.0 921.9,727.0 923.0,686.7 924.1,757.7 925.2,736.7 926.3,708.6 927.4,728.4 928.5,705.0 929.6,673.2 930.7,715.2 931.8,718.6 932.9,688.2 934.0,718.7 935.1,754.5 936.2,757.3 937.3,761.7 938.4,650.2 939.5,718.6 940.6,695.6 941.7,690.7 942.8,754.8 943.9,694.1 945.0,739.6 946.1,807.1 947.2,725.9 948.3,761.1 949.4,731.0 950.5,705.1 951.6,639.6 952.7,737.6 953.8,724.6 954.9,704.5 956.0,711.5 957.1,724.7 958.2,762.6 959.3,757.3 960.4,726.0 961.5,766.2 962.6,745.2 963.7,770.5 964.8,678.6 965.9,781.7 967.0,653.0 968.1,742.6 969.2,762.5 970.3,768.2 971.4,691.3 972.5,682.7 973.6,754.3 974.7,707.9 975.8,726.2 976.9,730.0 978.0,714.9 979.1,692.5 980.2,802.8 981.3,818.2 982.4,713.3 983.5,724.0 984.6,695.9 985.7,844.0 986.8,761.5 987.9,666.6 989.0,775.9 990.1,708.2 991.2,753.9 992.3,738.0 993.4,779.4 994.5,679.2 995.6,803.9 996.7,771.6 997.8,759.2 998.9,679.7 1000.0,711.2 1001.1,697.3 1002.2,723.4 1003.3,713.8 1004.4,704.2 1005.5,667.5 1006.6,713.5 1007.7,784.3 1008.8,681.2 1009.9,719.4 1011.0,768.4 1012.1,730.1 1013.2,763.2 1014.3,650.3 1015.4,736.9 1016.5,810.0 1017.6,712.0 1018.7,757.0 1019.8,676.9 1020.9,718.5 1022.0,799.6 1023.1,743.6 1024.2,768.4 1025.3,754.3 1026.4,749.6 1027.5,811.0 1028.6,716.6 1029.7,759.6 1030.8,760.4 1031.9,696.3 1033.0,657.3 1034.1,749.5 1035.2,660.1 1036.3,813.9 1037.4,703.4 1038.5,747.8 1039.6,727.5 1040.7,764.9 1041.8,748.5 1042.9,737.2 1044.0,738.5 1045.1,709.3 1046.2,644.2 1047.3,750.4 1048.4,731.1 1049.5,799.9 1050.6,838.4 1051.7,674.9 1052.8,780.7 1053.9,755.4 1055.0,724.6 1056.1,691.8 1057.2,713.5 1058.3,659.4 1059.4,732.8 1060.5,804.3 1061.6,720.4 1062.7,721.3 1063.8,759.1 1064.9,739.1 1066.0,749.5 1067.1,664.2 1068.2,750.7 1069.3,784.5 1070.4,715.6 1071.5,804.7 1072.6,710.2 1073.7,711.0 1074.8,760.7 1075.9,748.9 1077.0,750.6 1078.1,668.6 1079.2,711.7 1080.3,776.7 1081.4,778.7 1082.5,729.9 1083.6,727.5 1084.7,758.1 1085.8,715.9 1086.9,734.9 1088.0,687.5 1089.1,710.6 1090.2,730.9 1091.3,722.1 1092.4,763.4 1093.5,694.5 1094.6,712.9 1095.7,744.1 1096.8,723.1 1097.9,749.2 1099.0,641.5 1100.1,745.8 1101.2,708.2 1102.3,714.0 1103.4,760.4 1104.5,727.8 1105.6,740.8 1106.7,718.6 1107.8,718.4 1108.9,699.5 1110.0,699.0 1111.1,744.6 1112.2,749.5 1113.3,752.2 1114.4,763.8 1115.5,803.6 1116.6,705.9 1117.7,731.8 1118.8,737.1 1119.9,799.8 1121.0,792.5 1122.1,843.0 1123.2,733.1 1124.3,703.8 1125.4,706.6 1126.5,732.2 1127.6,773.9 1128.7,729.7 1129.8,729.3 1130.9,702.8 1132.0,700.7 1133.1,740.1 1134.2,731.0 1135.3,703.4 1136.4,712.3 1137.5,736.5 1138.6,826.0 1139.7,756.8 1140.8,698.5 1141.9,724.2 1143.0,694.5 1144.1,743.8 1145.2,727.0 1146.3,700.4 1147.4,704.3 1148.5,715.3 1149.6,690.1 1150.7,681.5 1151.8,679.7 1152.9,801.5 1154.0,750.1 1155.1,743.8 1156.2,745.3 1157.3,801.1 1158.4,683.1 1159.5,772.3 1160.6,727.1 1161.7,839.7 1162.8,751.5 1163.9,741.4 1165.0,769.8 1166.1,703.5 1167.2,647.9 1168.3,767.3 1169.4,767.0 1170.5,668.4 1171.6,710.2 1172.7,744.2 1173.8,785.5 1174.9,704.0 1176.0,723.5 1177.1,675.4 1178.2,767.7 1179.3,738.8 1180.4,744.3 1181.5,740.7 1182.6,692.8 1183.7,700.5 1184.8,758.3 1185.9,735.9 1187.0,741.5 1188.1,699.0 1189.2,739.5 1190.3,779.2 1191.4,746.4 1192.5,734.5 1193.6,698.3 1194.7,685.7 1195.8,685.2 1196.9,718.8 1198.0,753.9 1199.1,710.8 1200.2,740.6 1201.3,758.5 1202.4,722.0 1203.5,717.8 1204.6,700.8 1205.7,770.7 1206.8,805.8 1207.9,714.3 1209.0,773.8 1210.1,696.5 1211.2,780.0 1212.3,757.7 1213.4,813.2 1214.5,661.0 1215.6,752.9 1216.7,737.7 1217.8,755.9 1218.9,744.2 1220.0,703.3 1221.1,730.7 1222.2,735.3 1223.3,690.7 1224.4,792.6 1225.5,692.9 1226.6,676.9 1227.7,794.5 1228.8,724.7 1229.9,790.0 1231.0,829.9 1232.1,770.6 1233.2,715.4 1234.3,706.8 1235.4,750.5 1236.5,771.6 1237.6,753.5 1238.7,765.3 1239.8,761.7 1240.9,846.2 1242.0,745.5 1243.1,740.7 1244.2,658.3 1245.3,710.3 1246.4,741.9 1247.5,733.4 1248.6,723.6 1249.7,765.3 1250.8,829.8 1251.9,766.7 1253.0,745.8 1254.1,732.2 1255.2,766.4 1256.3,775.4 1257.4,747.6 1258.5,734.9 1259.6,715.1 1260.7,746.9 1261.8,887.0 1262.9,779.1 1264.0,706.4 1265.1,739.6 1266.2,795.8 1267.3,747.6 1268.4,733.3 1269.5,782.3 1270.6,709.8 1271.7,751.0 1272.8,720.0 1273.9,779.4 1275.0,725.5 1276.1,709.9 1277.2,755.6 1278.3,745.5 1279.4,761.2 1280.5,724.8 1281.6,736.6 1282.7,718.5 1283.8,740.3 1284.9,792.2 1286.0,794.1 1287.1,756.3 1288.2,720.2 1289.3,657.3 1290.4,705.1 1291.5,763.3 1292.6,829.0 1293.7,718.3 1294.8,737.6 1295.9,789.9 1297.0,704.3 1298.1,738.0 1299.2,755.1 1300.3,824.5 1301.4,701.8 1302.5,735.8 1303.6,748.5 1304.7,778.9 1305.8,753.4 1306.9,692.3 1308.0,718.4 1309.1,666.2 1310.2,698.6 1311.3,725.1 1312.4,704.6 1313.5,732.3 1314.6,801.3 1315.7,763.6 1316.8,725.7 1317.9,777.9 1319.0,760.0 1320.1,792.1 1321.2,677.0 1322.3,795.5 1323.4,782.9 1324.5,776.1 1325.6,702.2 1326.7,696.7 1327.8,761.9 1328.9,716.9 1330.0,776.5 1331.1,739.1 1332.2,647.2 1333.3,703.4 1334.4,741.0 1335.5,796.2 1336.6,751.5 1337.7,796.1 1338.8,838.6 1339.9,716.0 1341.0,716.9 1342.1,731.6 1343.2,701.7 1344.3,812.9 1345.4,687.6 1346.5,785.4 1347.6,724.8 1348.7,721.9 1349.8,699.0 1350.9,667.3 1352.0,726.1 1353.1,755.2 1354.2,786.9 1355.3,729.6 1356.4,775.2 1357.5,798.2 1358.6,748.0 1359.7,714.0 1360.8,752.5 1361.9,784.5 1363.0,734.4 1364.1,793.2 1365.2,806.1 1366.3,686.0 1367.4,730.6 1368.5,668.4 1369.6,804.2 1370.7,701.0 1371.8,747.4 1372.9,646.1 1374.0,749.1 1375.1,758.6 1376.2,723.9 1377.3,733.0 1378.4,759.3 1379.5,705.9 1380.6,714.1 1381.7,706.9 1382.8,725.1 1383.9,770.2 1385.0,769.8 1386.1,717.9 1387.2,780.4 1388.3,678.5 1389.4,739.7 1390.5,774.1 1391.6,701.7 1392.7,741.9 1393.8,696.1 1394.9,732.8 1396.0,676.4 1397.1,756.9 1398.2,840.8 1399.3,807.4 1400.4,813.1 1401.5,718.5 1402.6,675.2 1403.7,749.4 1404.8,799.1 1405.9,715.2 1407.0,723.9 1408.1,757.2 1409.2,725.7 1410.3,741.5 1411.4,790.8 1412.5,715.3 1413.6,762.6 1414.7,781.9 1415.8,751.5 1416.9,683.9 1418.0,670.6 1419.1,689.8 1420.2,762.4 1421.3,785.7 1422.4,728.6 1423.5,748.7 1424.6,736.7 1425.7,790.5 1426.8,779.6 1427.9,788.1 1429.0,712.7 1430.1,702.1 1431.2,770.9 1432.3,719.9 1433.4,717.7 1434.5,773.5 1435.6,742.3 1436.7,711.4 1437.8,785.8 1438.9,695.8 1440.0,751.2 1441.1,740.5 1442.2,752.8 1443.3,807.6 1444.4,729.6 1445.5,743.3 1446.6,759.9 1447.7,752.0 1448.8,726.8 1449.9,749.1 1451.0,765.1 1452.1,740.0 1453.2,714.2 1454.3,741.9 1455.4,863.2 1456.5,711.5 1457.6,755.5 1458.7,720.7 1459.8,749.4 1460.9,783.5 1462.0,798.7 1463.1,781.7 1464.2,753.2 1465.3,847.5 1466.4,728.7 1467.5,702.0 1468.6,753.7 1469.7,791.3 1470.8,817.7 1471.9,735.0 1473.0,727.8 1474.1,741.8 1475.2,717.1 1476.3,772.2 1477.4,754.5 1478.5,733.3 1479.6,753.5 1480.7,725.2 1481.8,724.9 1482.9,755.5 1484.0,785.3 1485.1,774.8 1486.2,702.8 1487.3,796.4 1488.4,742.2 1489.5,787.0 1490.6,661.6 1491.7,771.1 1492.8,720.1 1493.9,785.9 1495.0,634.0 1496.1,802.9 1497.2,730.8 1498.3,799.1 1499.4,713.4 1500.5,799.3 1501.6,763.4 1502.7,815.6 1503.8,761.5 1504.9,745.2 1506.0,680.9 1507.1,852.1 1508.2,724.0 1509.3,743.7 1510.4,770.7 1511.5,754.1 1512.6,730.0 1513.7,747.0 1514.8,747.3 1515.9,778.4 1517.0,762.1 1518.1,726.7 1519.2,784.9 1520.3,767.3 1521.4,742.8 1522.5,732.9 1523.6,730.6 1524.7,754.1 1525.8,838.7 1526.9,716.5 1528.0,707.7 1529.1,700.7 1530.2,732.7 1531.3,713.6 1532.4,758.3 1533.5,794.1 1534.6,753.4 1535.7,756.5 1536.8,708.2 1537.9,715.6 1539.0,768.0 1540.1,764.1 1541.2,748.5 1542.3,743.9 1543.4,693.6 1544.5,767.3 1545.6,698.3 1546.7,807.9 1547.8,775.6 1548.9,685.3 1550.0,731.8 1551.1,743.3 1552.2,724.4 1553.3,756.3 1554.4,745.3 1555.5,738.9 1556.6,738.9 1557.7,733.4 1558.8,771.8 1559.9,733.5 1561.0,777.6 1562.1,724.9 1563.2,754.6 1564.3,738.0 1565.4,736.8 1566.5,779.0 1567.6,770.1 1568.7,753.8 1569.8,730.3 1570.9,711.9 1572.0,750.2 1573.1,776.6 1574.2,738.5 1575.3,749.0 1576.4,718.9 1577.5,702.4 1578.6,676.8 1579.7,821.4 1580.8,767.9 1581.9,751.3 1583.0,718.1 1584.1,722.1 1585.2,746.1 1586.3,718.7 1587.4,771.3 1588.5,763.5 1589.6,736.5 1590.7,794.1 1591.8,690.0 1592.9,781.9 1594.0,797.1 1595.1,735.9 1596.2,835.0 1597.3,766.4 1598.4,755.4 1599.5,700.2 1600.6,642.0 1601.7,741.8 1602.8,804.6 1603.9,738.3 1605.0,722.8 1606.1,787.8 1607.2,735.1 1608.3,689.9 1609.4,729.5 1610.5,781.8 1611.6,771.9 1612.7,821.6 1613.8,766.8 1614.9,773.0 1616.0,696.7 1617.1,817.2 1618.2,818.6 1619.3,741.4 1620.4,725.9 1621.5,771.9 1622.6,741.4 1623.7,723.2 1624.8,720.5 1625.9,734.7 1627.0,728.0 1628.1,817.5 1629.2,718.3 1630.3,743.7 1631.4,784.2 1632.5,765.6 1633.6,761.4 1634.7,772.1 1635.8,756.2 1636.9,765.6 1638.0,813.3 1639.1,671.3 1640.2,734.5 1641.3,669.3 1642.4,761.0 1643.5,689.6 1644.6,755.0 1645.7,691.2 1646.8,714.2 1647.9,720.2 1649.0,757.1 1650.1,741.0 1651.2,699.4 1652.3,840.8 1653.4,778.7 1654.5,804.1 1655.6,788.9 1656.7,725.7 1657.8,717.5 1658.9,758.0 1660.0,706.7 1661.1,780.9 1662.2,774.8 1663.3,744.8 1664.4,733.9 1665.5,755.2 1666.6,795.8 1667.7,727.6 1668.8,686.5 1669.9,765.4 1671.0,748.9 1672.1,797.8 1673.2,750.1 1674.3,788.9 1675.4,743.1 1676.5,691.8 1677.6,729.4 1678.7,780.6 1679.8,718.8 1680.9,827.5 1682.0,704.1 1683.1,738.1 1684.2,796.0 1685.3,763.6 1686.4,789.1 1687.5,677.0 1688.6,728.0 1689.7,793.7 1690.8,778.8 1691.9,744.2 1693.0,774.5 1694.1,741.3 1695.2,735.7 1696.3,814.8 1697.4,726.7 1698.5,688.3 1699.6,738.2 1700.7,726.5 1701.8,772.4 1702.9,772.2 1704.0,738.8 1705.1,788.5 1706.2,823.0 1707.3,718.9 1708.4,778.3 1709.5,742.5 1710.6,746.6 1711.7,735.0 1712.8,727.7 1713.9,730.5 1715.0,763.3 1716.1,719.6 1717.2,766.3 1718.3,737.2 1719.4,777.5 1720.5,748.1 1721.6,787.7 1722.7,698.9 1723.8,738.5 1724.9,782.5 1726.0,832.5 1727.1,782.3 1728.2,702.1 1729.3,778.8 1730.4,714.0 1731.5,760.8 1732.6,765.7 1733.7,797.4 1734.8,740.7 1735.9,712.4 1737.0,721.9 1738.1,731.7 1739.2,797.2 1740.3,748.6 1741.4,802.2 1742.5,789.0 1743.6,738.1 1744.7,799.1 1745.8,733.9 1746.9,766.3 1748.0,698.9 1749.1,760.2 1750.2,734.3 1751.3,715.1 1752.4,731.2 1753.5,729.1 1754.6,833.0 1755.7,719.8 1756.8,827.5 1757.9,783.8 1759.0,872.2 1760.1,769.3 1761.2,784.0 1762.3,765.5 1763.4,798.2 1764.5,762.7 1765.6,786.9 1766.7,763.8 1767.8,723.5 1768.9,858.1 1770.0,758.0 1771.1,762.4 1772.2,825.9 1773.3,774.5 1774.4,701.9 1775.5,741.6 1776.6,780.2 1777.7,727.3 1778.8,741.8 1779.9,813.2 1781.0,771.7 1782.1,758.1 1783.2,755.7 1784.3,742.4 1785.4,755.9 1786.5,754.3 1787.6,778.8 1788.7,771.7 1789.8,778.2 1790.9,735.9 1792.0,761.1 1793.1,781.1 1794.2,726.6 1795.3,667.6 1796.4,762.0 1797.5,707.2 1798.6,778.3 1799.7,746.8 1800.8,719.7 1801.9,711.6 1803.0,676.2 1804.1,774.6 1805.2,750.9 1806.3,702.3 1807.4,704.1 1808.5,790.1 1809.6,753.8 1810.7,714.4 1811.8,706.4 1812.9,794.2 1814.0,739.1 1815.1,857.4 1816.2,714.0 1817.3,687.5 1818.4,801.1 1819.5,762.5 1820.6,816.4 1821.7,772.8 1822.8,731.9 1823.9,730.3 1825.0,737.4 1826.1,815.3 1827.2,789.8 1828.3,684.0 1829.4,744.4 1830.5,771.5 1831.6,743.6 1832.7,778.3 1833.8,747.1 1834.9,786.5 1836.0,782.5 1837.1,824.2 1838.2,688.2 1839.3,725.6 1840.4,729.2 1841.5,720.0 1842.6,759.1 1843.7,801.2 1844.8,733.6 1845.9,726.8 1847.0,732.7 1848.1,770.5 1849.2,821.8 1850.3,723.0 1851.4,737.7 1852.5,756.6 1853.6,763.9 1854.7,759.6 1855.8,778.0 1856.9,820.1 1858.0,758.7 1859.1,772.5 1860.2,741.5 1861.3,767.3 1862.4,742.9 1863.5,807.4 1864.6,736.4 1865.7,678.0 1866.8,758.6 1867.9,729.7 1869.0,720.3 1870.1,740.3 1871.2,744.8 1872.3,824.8 1873.4,789.7 1874.5,696.1 1875.6,746.4 1876.7,746.2 1877.8,682.5 1878.9,832.6 1880.0,714.0 1881.1,729.0 1882.2,844.7 1883.3,781.8 1884.4,737.9 1885.5,784.9 1886.6,787.7 1887.7,730.9 1888.8,762.8 1889.9,747.4 1891.0,761.8 1892.1,749.7 1893.2,742.9 1894.3,673.8 1895.4,738.9 1896.5,785.2 1897.6,739.9 1898.7,744.8 1899.8,638.9 1900.9,818.8 1902.0,728.0 1903.1,744.9 1904.2,697.2 1905.3,799.9 1906.4,809.8 1907.5,741.3 1908.6,722.6 1909.7,737.9 1910.8,730.5 1911.9,757.5 1913.0,716.5 1914.1,750.4 1915.2,777.0 1916.3,699.8 1917.4,793.0 1918.5,828.4 1919.6,772.5 1920.7,761.6 1921.8,758.6 1922.9,768.5 1924.0,740.9 1925.1,770.3 1926.2,793.6 1927.3,702.5 1928.4,763.4 1929.5,713.7 1930.6,749.1 1931.7,736.8 1932.8,697.6" fill="none" stroke="#000000" stroke-width="3.55" stroke-linejoin="round" stroke-linecap="round"/>
<polyline points="456.6,1327.9 456.6,167.2 457.7,171.9 458.8,186.3 459.9,223.6 461.0,211.7 462.1,223.0 463.2,229.1 464.3,245.3 465.4,245.0 466.5,259.8 467.6,281.3 468.7,255.5 469.8,263.3 470.9,258.6 472.0,292.1 473.1,307.1 474.2,316.5 475.3,341.4 476.4,304.9 477.5,348.0 478.6,356.8 479.7,346.0 480.8,323.4 481.9,351.6 483.0,379.8 484.1,378.4 485.2,357.8 486.3,377.0 487.4,393.4 488.5,387.4 489.6,373.1 490.7,354.4 491.8,420.7 492.9,411.6 494.0,419.2 495.1,459.0 496.2,429.5 497.3,435.6 498.4,395.0 499.5,424.1 500.6,460.0 501.7,413.7 502.8,437.6 503.9,472.0 505.0,448.7 506.1,451.4 507.2,460.8 508.3,443.6 509.4,500.0 510.5,455.9 511.6,430.9 512.7,437.0 513.8,434.8 514.9,437.9 516.0,433.4 517.1,496.0 518.2,453.8 519.3,522.4 520.4,494.2 521.5,531.4 522.6,462.6 523.7,459.6 524.8,496.8 525.9,453.2 527.0,512.2 528.1,493.6 529.2,495.3 530.3,527.8 531.4,492.0 532.5,459.4 533.6,532.3 534.7,486.2 535.8,513.5 536.9,469.6 538.0,501.2 539.1,498.3 540.2,500.8 541.3,512.2 542.4,557.5 543.5,488.1 544.6,560.6 545.7,519.5 546.8,511.8 547.9,551.4 549.0,527.1 550.1,503.1 551.2,534.3 552.3,558.9 553.4,621.9 554.5,564.0 555.6,554.7 556.7,554.0 557.8,567.8 558.9,532.8 560.0,559.6 561.1,548.2 562.2,528.9 563.3,571.6 564.4,557.4 565.5,496.3 566.6,528.9 567.7,589.9 568.8,556.6 569.9,540.6 571.0,524.7 572.1,554.2 573.2,574.5 574.3,581.6 575.4,544.5 576.5,554.2 577.6,578.2 578.7,569.8 579.8,577.2 580.9,546.7 582.0,587.0 583.1,554.8 584.2,545.9 585.3,556.6 586.4,595.1 587.5,535.7 588.6,592.3 589.7,561.7 590.8,596.4 591.9,628.4 593.0,569.9 594.1,569.1 595.2,580.3 596.3,571.2 597.4,598.9 598.5,602.5 599.6,586.5 600.7,531.2 601.8,560.5 602.9,599.4 604.0,569.1 605.1,599.9 606.2,600.1 607.3,563.2 608.4,603.8 609.5,641.4 610.6,617.3 611.7,588.1 612.8,587.8 613.9,557.6 615.0,614.8 616.1,573.1 617.2,582.5 618.3,600.1 619.4,572.5 620.5,583.0 621.6,624.6 622.7,568.4 623.8,638.0 624.9,598.8 626.0,601.3 627.1,589.6 628.2,625.2 629.3,604.7 630.4,608.6 631.5,576.3 632.6,630.7 633.7,604.5 634.8,615.4 635.9,649.7 637.0,535.4 638.1,611.9 639.2,658.7 640.3,570.7 641.4,646.2 642.5,601.7 643.6,588.1 644.7,634.8 645.8,628.6 646.9,632.9 648.0,620.7 649.1,671.1 650.2,658.1 651.3,622.8 652.4,588.1 653.5,600.4 654.6,569.8 655.7,599.5 656.8,637.1 657.9,625.2 659.0,691.1 660.1,653.5 661.2,656.1 662.3,615.0 663.4,604.1 664.5,642.3 665.6,643.7 666.7,677.2 667.8,629.8 668.9,618.6 670.0,613.1 671.1,652.7 672.2,569.8 673.3,592.4 674.4,631.8 675.5,646.3 676.6,640.1 677.7,625.5 678.8,631.3 679.9,616.2 681.0,608.1 682.1,591.1 683.2,597.9 684.3,636.7 685.4,621.5 686.5,646.7 687.6,653.9 688.7,578.6 689.8,650.7 690.9,577.2 692.0,648.0 693.1,629.1 694.2,604.2 695.3,637.4 696.4,626.2 697.5,647.0 698.6,655.2 699.7,645.3 700.8,661.9 701.9,591.4 703.0,646.6 704.1,589.5 705.2,741.0 706.3,641.7 707.4,624.9 708.5,652.8 709.6,609.5 710.7,623.7 711.8,653.3 712.9,630.8 714.0,563.0 715.1,637.4 716.2,636.2 717.3,660.9 718.4,642.3 719.5,691.8 720.6,654.0 721.7,574.8 722.8,614.8 723.9,628.2 725.0,614.4 726.1,592.1 727.2,630.8 728.3,587.5 729.4,616.9 730.5,645.6 731.6,598.5 732.7,739.2 733.8,671.6 734.9,643.9 736.0,684.4 737.1,658.4 738.2,675.2 739.3,676.0 740.4,573.1 741.5,633.8 742.6,656.1 743.7,613.2 744.8,662.8 745.9,626.7 747.0,643.8 748.1,604.9 749.2,706.2 750.3,631.3 751.4,652.1 752.5,697.1 753.6,622.7 754.7,687.2 755.8,606.6 756.9,640.6 758.0,635.0 759.1,655.1 760.2,628.9 761.3,726.5 762.4,656.0 763.5,680.4 764.6,649.6 765.7,660.8 766.8,639.3 767.9,688.8 769.0,602.7 770.1,589.4 771.2,667.4 772.3,661.1 773.4,651.3 774.5,620.8 775.6,602.3 776.7,704.5 777.8,683.0 778.9,699.6 780.0,701.7 781.1,722.2 782.2,650.6 783.3,704.2 784.4,615.5 785.5,633.9 786.6,700.1 787.7,700.4 788.8,685.4 789.9,619.6 791.0,694.4 792.1,719.1 793.2,666.7 794.3,652.8 795.4,688.4 796.5,614.2 797.6,657.6 798.7,650.8 799.8,696.2 800.9,667.5 802.0,671.6 803.1,753.0 804.2,656.9 805.3,733.4 806.4,667.9 807.5,720.9 808.6,604.0 809.7,656.4 810.8,639.2 811.9,637.6 813.0,715.9 814.1,755.2 815.2,679.5 816.3,638.8 817.4,665.3 818.5,642.6 819.6,638.0 820.7,723.6 821.8,659.3 822.9,607.2 824.0,689.3 825.1,746.2 826.2,677.6 827.3,686.0 828.4,655.8 829.5,701.9 830.6,667.1 831.7,755.3 832.8,642.3 833.9,619.8 835.0,628.7 836.1,726.9 837.2,660.3 838.3,791.2 839.4,661.8 840.5,673.7 841.6,707.5 842.7,660.2 843.8,667.3 844.9,641.1 846.0,667.9 847.1,664.4 848.2,746.4 849.3,714.9 850.4,689.6 851.5,662.9 852.6,673.4 853.7,624.8 854.8,704.7 855.9,682.0 857.0,665.1 858.1,682.0 859.2,657.4 860.3,694.5 861.4,628.3 862.5,685.7 863.6,638.0 864.7,675.9 865.8,626.6 866.9,726.9 868.0,657.8 869.1,690.7 870.2,667.7 871.3,636.5 872.4,717.6 873.5,724.9 874.6,712.5 875.7,667.6 876.8,748.4 877.9,673.3 879.0,724.3 880.1,718.9 881.2,690.1 882.3,664.2 883.4,699.8 884.5,695.0 885.6,679.1 886.7,687.4 887.8,785.2 888.9,693.4 890.0,675.3 891.1,642.0 892.2,613.2 893.3,656.2 894.4,676.1 895.5,714.2 896.6,676.1 897.7,653.1 898.8,637.7 899.9,711.7 901.0,671.6 902.1,652.5 903.2,620.1 904.3,671.4 905.4,699.8 906.5,705.4 907.6,693.3 908.7,704.2 909.8,653.0 910.9,645.3 912.0,656.5 913.1,641.6 914.2,697.5 915.3,668.3 916.4,695.3 917.5,680.1 918.6,641.1 919.7,682.9 920.8,753.9 921.9,691.1 923.0,708.1 924.1,739.5 925.2,711.3 926.3,650.3 927.4,627.9 928.5,700.4 929.6,649.3 930.7,643.8 931.8,726.3 932.9,684.7 934.0,685.0 935.1,677.5 936.2,744.4 937.3,696.3 938.4,648.4 939.5,642.0 940.6,624.6 941.7,696.3 942.8,623.6 943.9,661.7 945.0,735.9 946.1,658.8 947.2,697.5 948.3,667.1 949.4,688.7 950.5,644.8 951.6,676.4 952.7,695.6 953.8,652.9 954.9,676.7 956.0,700.7 957.1,643.3 958.2,700.8 959.3,709.4 960.4,705.9 961.5,742.2 962.6,706.6 963.7,625.9 964.8,720.4 965.9,686.6 967.0,728.4 968.1,709.4 969.2,636.9 970.3,656.9 971.4,709.7 972.5,687.4 973.6,718.2 974.7,716.7 975.8,721.9 976.9,721.3 978.0,676.8 979.1,667.7 980.2,671.5 981.3,694.6 982.4,740.3 983.5,691.2 984.6,723.3 985.7,658.9 986.8,669.8 987.9,663.6 989.0,702.0 990.1,760.2 991.2,657.0 992.3,648.4 993.4,746.8 994.5,685.1 995.6,649.8 996.7,730.6 997.8,632.0 998.9,703.1 1000.0,731.0 1001.1,644.6 1002.2,680.4 1003.3,715.0 1004.4,660.9 1005.5,768.5 1006.6,631.4 1007.7,721.7 1008.8,681.4 1009.9,706.1 1011.0,676.5 1012.1,661.4 1013.2,722.6 1014.3,665.0 1015.4,702.9 1016.5,717.7 1017.6,700.4 1018.7,730.2 1019.8,722.1 1020.9,660.0 1022.0,698.1 1023.1,653.9 1024.2,677.6 1025.3,731.5 1026.4,768.0 1027.5,718.5 1028.6,683.7 1029.7,692.8 1030.8,724.2 1031.9,658.6 1033.0,761.9 1034.1,741.6 1035.2,689.0 1036.3,622.0 1037.4,679.1 1038.5,731.7 1039.6,673.1 1040.7,670.1 1041.8,661.7 1042.9,709.1 1044.0,724.0 1045.1,690.0 1046.2,679.6 1047.3,640.9 1048.4,625.9 1049.5,721.8 1050.6,713.8 1051.7,696.9 1052.8,703.8 1053.9,677.7 1055.0,677.8 1056.1,685.8 1057.2,649.5 1058.3,700.8 1059.4,735.0 1060.5,756.1 1061.6,734.3 1062.7,735.0 1063.8,770.3 1064.9,672.4 1066.0,689.0 1067.1,711.2 1068.2,729.3 1069.3,757.7 1070.4,730.6 1071.5,634.6 1072.6,785.8 1073.7,691.1 1074.8,670.3 1075.9,691.4 1077.0,708.0 1078.1,669.7 1079.2,738.6 1080.3,677.0 1081.4,648.2 1082.5,736.3 1083.6,727.6 1084.7,692.0 1085.8,662.8 1086.9,651.5 1088.0,673.3 1089.1,722.2 1090.2,739.9 1091.3,688.6 1092.4,683.3 1093.5,739.5 1094.6,695.4 1095.7,685.8 1096.8,661.7 1097.9,735.4 1099.0,678.2 1100.1,742.8 1101.2,713.8 1102.3,700.9 1103.4,646.8 1104.5,593.7 1105.6,689.2 1106.7,680.8 1107.8,663.6 1108.9,751.4 1110.0,671.8 1111.1,746.6 1112.2,643.9 1113.3,649.8 1114.4,681.1 1115.5,729.4 1116.6,642.9 1117.7,689.8 1118.8,695.2 1119.9,678.8 1121.0,767.3 1122.1,684.2 1123.2,665.0 1124.3,687.5 1125.4,694.4 1126.5,736.0 1127.6,677.1 1128.7,692.6 1129.8,699.6 1130.9,721.0 1132.0,670.2 1133.1,657.3 1134.2,686.4 1135.3,669.0 1136.4,655.0 1137.5,646.7 1138.6,692.4 1139.7,708.4 1140.8,716.1 1141.9,700.3 1143.0,681.3 1144.1,668.2 1145.2,716.8 1146.3,695.6 1147.4,739.3 1148.5,657.8 1149.6,715.8 1150.7,688.5 1151.8,728.6 1152.9,712.5 1154.0,727.4 1155.1,644.1 1156.2,688.8 1157.3,707.9 1158.4,738.1 1159.5,724.9 1160.6,681.8 1161.7,645.7 1162.8,758.4 1163.9,737.3 1165.0,708.8 1166.1,726.1 1167.2,768.6 1168.3,701.8 1169.4,676.1 1170.5,765.3 1171.6,695.1 1172.7,669.1 1173.8,668.7 1174.9,718.7 1176.0,626.9 1177.1,683.4 1178.2,734.1 1179.3,668.9 1180.4,746.9 1181.5,672.0 1182.6,752.8 1183.7,675.7 1184.8,725.6 1185.9,664.4 1187.0,677.6 1188.1,687.9 1189.2,701.8 1190.3,666.2 1191.4,776.8 1192.5,688.7 1193.6,689.4 1194.7,684.3 1195.8,675.3 1196.9,588.1 1198.0,700.3 1199.1,676.2 1200.2,699.2 1201.3,651.1 1202.4,787.6 1203.5,647.2 1204.6,731.0 1205.7,799.1 1206.8,747.0 1207.9,711.7 1209.0,698.2 1210.1,707.1 1211.2,676.6 1212.3,706.8 1213.4,707.9 1214.5,794.2 1215.6,688.3 1216.7,670.4 1217.8,721.7 1218.9,782.3 1220.0,758.7 1221.1,649.1 1222.2,729.2 1223.3,731.5 1224.4,737.8 1225.5,682.2 1226.6,728.8 1227.7,740.0 1228.8,766.7 1229.9,710.7 1231.0,671.6 1232.1,712.4 1233.2,675.8 1234.3,700.6 1235.4,701.7 1236.5,700.6 1237.6,706.0 1238.7,671.3 1239.8,689.8 1240.9,729.4 1242.0,702.8 1243.1,710.4 1244.2,690.2 1245.3,701.2 1246.4,692.8 1247.5,819.4 1248.6,694.2 1249.7,662.4 1250.8,761.6 1251.9,653.2 1253.0,697.5 1254.1,716.1 1255.2,781.9 1256.3,670.3 1257.4,746.2 1258.5,728.0 1259.6,689.1 1260.7,748.8 1261.8,747.3 1262.9,754.1 1264.0,713.1 1265.1,687.8 1266.2,694.4 1267.3,694.3 1268.4,722.1 1269.5,704.0 1270.6,735.7 1271.7,641.7 1272.8,702.2 1273.9,789.9 1275.0,751.3 1276.1,654.4 1277.2,763.9 1278.3,726.1 1279.4,694.9 1280.5,752.6 1281.6,672.1 1282.7,652.1 1283.8,741.6 1284.9,670.1 1286.0,744.4 1287.1,748.9 1288.2,701.0 1289.3,701.3 1290.4,732.8 1291.5,680.1 1292.6,769.0 1293.7,743.3 1294.8,752.5 1295.9,683.2 1297.0,681.6 1298.1,686.4 1299.2,761.9 1300.3,705.6 1301.4,693.9 1302.5,776.0 1303.6,742.4 1304.7,687.4 1305.8,685.4 1306.9,701.4 1308.0,691.2 1309.1,699.0 1310.2,705.3 1311.3,715.0 1312.4,744.8 1313.5,720.2 1314.6,726.3 1315.7,633.4 1316.8,701.6 1317.9,711.6 1319.0,719.9 1320.1,715.6 1321.2,721.6 1322.3,691.6 1323.4,712.5 1324.5,682.5 1325.6,738.3 1326.7,698.7 1327.8,680.3 1328.9,757.2 1330.0,705.5 1331.1,702.7 1332.2,724.4 1333.3,730.4 1334.4,788.2 1335.5,671.4 1336.6,748.4 1337.7,761.3 1338.8,688.3 1339.9,787.4 1341.0,677.9 1342.1,696.4 1343.2,690.6 1344.3,718.4 1345.4,760.6 1346.5,871.3 1347.6,661.7 1348.7,730.5 1349.8,732.3 1350.9,657.7 1352.0,736.9 1353.1,721.6 1354.2,721.6 1355.3,717.9 1356.4,753.7 1357.5,734.3 1358.6,667.7 1359.7,685.5 1360.8,845.1 1361.9,794.3 1363.0,700.8 1364.1,717.3 1365.2,727.4 1366.3,676.2 1367.4,786.6 1368.5,671.0 1369.6,708.4 1370.7,693.4 1371.8,704.1 1372.9,683.1 1374.0,723.0 1375.1,734.3 1376.2,685.5 1377.3,707.2 1378.4,763.7 1379.5,666.4 1380.6,671.0 1381.7,663.5 1382.8,710.9 1383.9,701.0 1385.0,728.5 1386.1,752.2 1387.2,711.6 1388.3,707.5 1389.4,739.7 1390.5,651.3 1391.6,780.1 1392.7,746.0 1393.8,740.3 1394.9,668.9 1396.0,724.1 1397.1,726.8 1398.2,749.2 1399.3,744.3 1400.4,766.9 1401.5,678.4 1402.6,692.6 1403.7,679.4 1404.8,740.4 1405.9,630.7 1407.0,753.5 1408.1,801.0 1409.2,726.0 1410.3,709.9 1411.4,687.7 1412.5,755.2 1413.6,693.6 1414.7,656.0 1415.8,748.6 1416.9,744.1 1418.0,785.3 1419.1,706.4 1420.2,684.6 1421.3,687.7 1422.4,685.5 1423.5,665.9 1424.6,710.8 1425.7,681.5 1426.8,753.1 1427.9,746.6 1429.0,706.8 1430.1,747.8 1431.2,695.0 1432.3,667.5 1433.4,701.1 1434.5,744.7 1435.6,745.2 1436.7,668.0 1437.8,747.3 1438.9,712.8 1440.0,726.1 1441.1,714.3 1442.2,677.2 1443.3,737.1 1444.4,773.5 1445.5,665.5 1446.6,708.2 1447.7,690.2 1448.8,717.3 1449.9,688.5 1451.0,671.9 1452.1,668.6 1453.2,727.2 1454.3,730.3 1455.4,702.3 1456.5,709.2 1457.6,696.3 1458.7,744.7 1459.8,816.7 1460.9,700.5 1462.0,688.8 1463.1,693.7 1464.2,659.4 1465.3,686.5 1466.4,732.2 1467.5,682.0 1468.6,720.6 1469.7,672.9 1470.8,708.6 1471.9,700.8 1473.0,709.1 1474.1,715.6 1475.2,778.7 1476.3,715.5 1477.4,815.0 1478.5,699.5 1479.6,682.2 1480.7,647.5 1481.8,704.1 1482.9,746.0 1484.0,783.3 1485.1,651.0 1486.2,776.1 1487.3,685.8 1488.4,817.2 1489.5,720.2 1490.6,693.4 1491.7,706.3 1492.8,720.0 1493.9,750.9 1495.0,754.3 1496.1,682.3 1497.2,702.5 1498.3,724.7 1499.4,710.9 1500.5,755.4 1501.6,682.0 1502.7,674.0 1503.8,749.5 1504.9,715.1 1506.0,681.3 1507.1,744.0 1508.2,649.1 1509.3,665.9 1510.4,729.8 1511.5,683.9 1512.6,661.1 1513.7,769.4 1514.8,696.6 1515.9,724.8 1517.0,727.6 1518.1,693.5 1519.2,737.9 1520.3,776.5 1521.4,777.6 1522.5,720.4 1523.6,696.6 1524.7,720.6 1525.8,725.6 1526.9,721.0 1528.0,674.0 1529.1,700.3 1530.2,749.2 1531.3,731.0 1532.4,677.0 1533.5,742.6 1534.6,735.3 1535.7,721.0 1536.8,762.7 1537.9,687.5 1539.0,813.9 1540.1,668.9 1541.2,737.1 1542.3,771.1 1543.4,709.8 1544.5,791.5 1545.6,700.6 1546.7,692.2 1547.8,742.9 1548.9,735.5 1550.0,686.2 1551.1,746.8 1552.2,719.7 1553.3,707.7 1554.4,665.7 1555.5,740.2 1556.6,719.4 1557.7,680.1 1558.8,833.1 1559.9,731.1 1561.0,801.2 1562.1,798.0 1563.2,653.1 1564.3,713.0 1565.4,668.5 1566.5,730.2 1567.6,701.1 1568.7,737.7 1569.8,742.4 1570.9,723.9 1572.0,716.3 1573.1,667.1 1574.2,728.7 1575.3,707.1 1576.4,731.1 1577.5,715.8 1578.6,774.6 1579.7,682.1 1580.8,741.7 1581.9,719.8 1583.0,729.6 1584.1,685.9 1585.2,702.2 1586.3,721.0 1587.4,715.0 1588.5,708.8 1589.6,694.0 1590.7,702.9 1591.8,675.8 1592.9,664.8 1594.0,699.1 1595.1,775.7 1596.2,660.7 1597.3,647.9 1598.4,736.0 1599.5,738.0 1600.6,809.7 1601.7,693.5 1602.8,762.4 1603.9,658.2 1605.0,830.6 1606.1,719.4 1607.2,697.4 1608.3,737.8 1609.4,753.7 1610.5,712.9 1611.6,742.8 1612.7,735.6 1613.8,723.8 1614.9,744.1 1616.0,731.1 1617.1,693.6 1618.2,737.6 1619.3,716.2 1620.4,752.4 1621.5,689.3 1622.6,775.0 1623.7,687.9 1624.8,860.7 1625.9,759.0 1627.0,788.6 1628.1,686.0 1629.2,712.7 1630.3,776.3 1631.4,745.3 1632.5,675.2 1633.6,725.5 1634.7,702.5 1635.8,785.8 1636.9,785.8 1638.0,702.5 1639.1,644.6 1640.2,745.0 1641.3,702.0 1642.4,761.9 1643.5,679.1 1644.6,741.9 1645.7,741.2 1646.8,804.6 1647.9,740.5 1649.0,717.4 1650.1,675.2 1651.2,772.3 1652.3,688.9 1653.4,738.0 1654.5,735.9 1655.6,762.9 1656.7,796.4 1657.8,774.5 1658.9,667.5 1660.0,773.8 1661.1,742.3 1662.2,685.3 1663.3,816.8 1664.4,709.0 1665.5,745.8 1666.6,718.7 1667.7,694.1 1668.8,731.8 1669.9,733.6 1671.0,699.2 1672.1,702.4 1673.2,754.7 1674.3,733.4 1675.4,781.6 1676.5,679.6 1677.6,775.7 1678.7,719.1 1679.8,664.6 1680.9,696.5 1682.0,737.5 1683.1,755.2 1684.2,751.0 1685.3,692.5 1686.4,713.3 1687.5,726.2 1688.6,637.3 1689.7,759.3 1690.8,745.1 1691.9,740.5 1693.0,717.7 1694.1,714.2 1695.2,736.5 1696.3,698.7 1697.4,705.8 1698.5,737.8 1699.6,834.6 1700.7,697.1 1701.8,764.8 1702.9,752.6 1704.0,732.4 1705.1,777.9 1706.2,759.6 1707.3,725.0 1708.4,741.3 1709.5,716.1 1710.6,762.9 1711.7,737.5 1712.8,771.8 1713.9,739.8 1715.0,717.8 1716.1,738.3 1717.2,788.5 1718.3,736.2 1719.4,723.1 1720.5,687.5 1721.6,730.4 1722.7,745.0 1723.8,776.9 1724.9,658.9 1726.0,767.3 1727.1,775.1 1728.2,734.7 1729.3,806.8 1730.4,689.6 1731.5,721.9 1732.6,710.5 1733.7,768.7 1734.8,749.0 1735.9,697.2 1737.0,695.5 1738.1,632.6 1739.2,688.6 1740.3,809.9 1741.4,725.3 1742.5,742.9 1743.6,688.6 1744.7,732.0 1745.8,710.2 1746.9,741.0 1748.0,705.7 1749.1,676.0 1750.2,752.9 1751.3,816.7 1752.4,770.6 1753.5,672.7 1754.6,720.1 1755.7,740.1 1756.8,767.6 1757.9,690.1 1759.0,717.6 1760.1,733.0 1761.2,750.1 1762.3,734.7 1763.4,741.2 1764.5,707.3 1765.6,682.6 1766.7,813.1 1767.8,789.4 1768.9,732.6 1770.0,725.8 1771.1,794.0 1772.2,753.6 1773.3,744.8 1774.4,746.5 1775.5,747.4 1776.6,732.4 1777.7,696.5 1778.8,701.6 1779.9,707.0 1781.0,718.7 1782.1,757.9 1783.2,748.4 1784.3,703.5 1785.4,724.9 1786.5,699.7 1787.6,719.3 1788.7,727.1 1789.8,712.8 1790.9,794.2 1792.0,735.7 1793.1,752.9 1794.2,698.3 1795.3,756.5 1796.4,720.8 1797.5,746.7 1798.6,711.9 1799.7,703.1 1800.8,738.1 1801.9,726.0 1803.0,723.4 1804.1,701.4 1805.2,743.1 1806.3,728.8 1807.4,747.3 1808.5,769.6 1809.6,723.9 1810.7,714.6 1811.8,763.5 1812.9,674.3 1814.0,761.0 1815.1,703.1 1816.2,716.7 1817.3,803.8 1818.4,732.1 1819.5,797.8 1820.6,735.4 1821.7,705.9 1822.8,665.7 1823.9,702.1 1825.0,795.8 1826.1,745.3 1827.2,677.3 1828.3,724.6 1829.4,668.5 1830.5,760.8 1831.6,753.9 1832.7,788.2 1833.8,746.9 1834.9,685.9 1836.0,769.7 1837.1,700.7 1838.2,714.5 1839.3,702.5 1840.4,742.1 1841.5,731.1 1842.6,656.9 1843.7,784.0 1844.8,703.7 1845.9,677.2 1847.0,714.7 1848.1,672.7 1849.2,870.7 1850.3,744.4 1851.4,780.9 1852.5,749.1 1853.6,736.8 1854.7,714.4 1855.8,767.6 1856.9,700.3 1858.0,799.9 1859.1,697.3 1860.2,743.0 1861.3,809.7 1862.4,809.9 1863.5,811.0 1864.6,774.6 1865.7,729.2 1866.8,685.5 1867.9,704.4 1869.0,790.0 1870.1,837.1 1871.2,746.2 1872.3,794.7 1873.4,741.4 1874.5,762.4 1875.6,645.4 1876.7,809.1 1877.8,722.8 1878.9,668.5 1880.0,751.5 1881.1,767.1 1882.2,674.6 1883.3,829.5 1884.4,809.6 1885.5,787.1 1886.6,720.3 1887.7,706.4 1888.8,740.7 1889.9,658.3 1891.0,743.7 1892.1,735.7 1893.2,747.8 1894.3,690.0 1895.4,734.9 1896.5,751.0 1897.6,674.1 1898.7,687.4 1899.8,697.3 1900.9,788.1 1902.0,779.3 1903.1,744.2 1904.2,744.8 1905.3,751.6 1906.4,743.2 1907.5,709.6 1908.6,776.1 1909.7,724.6 1910.8,749.9 1911.9,753.4 1913.0,745.2 1914.1,705.9 1915.2,722.9 1916.3,765.7 1917.4,720.8 1918.5,728.1 1919.6,717.4 1920.7,743.6 1921.8,695.9 1922.9,718.2 1924.0,780.3 1925.1,786.4 1926.2,792.0 1927.3,717.2 1928.4,760.4 1929.5,746.3 1930.6,735.1 1931.7,687.2 1932.8,655.3" fill="none" stroke="#FF0000" stroke-width="3.55" stroke-linejoin="round" stroke-linecap="round"/>
<polyline points="456.6,1327.9 456.6,167.2 457.7,185.4 458.8,225.6 459.9,230.1 461.0,266.3 462.1,300.0 463.2,304.9 464.3,305.2 465.4,325.7 466.5,364.8 467.6,355.3 468.7,377.1 469.8,380.0 470.9,392.4 472.0,428.5 473.1,413.9 474.2,441.5 475.3,411.4 476.4,431.4 477.5,450.1 478.6,480.7 479.7,472.2 480.8,481.3 481.9,520.1 483.0,464.2 484.1,509.7 485.2,494.8 486.3,564.9 487.4,515.9 488.5,588.6 489.6,578.6 490.7,557.9 491.8,575.6 492.9,643.4 494.0,617.3 495.1,576.9 496.2,555.2 497.3,587.7 498.4,623.4 499.5,603.2 500.6,658.7 501.7,619.6 502.8,674.2 503.9,642.0 505.0,649.8 506.1,629.9 507.2,663.7 508.3,628.4 509.4,670.0 510.5,646.4 511.6,652.1 512.7,734.4 513.8,681.6 514.9,685.8 516.0,713.3 517.1,687.9 518.2,741.8 519.3,683.3 520.4,687.7 521.5,696.8 522.6,640.6 523.7,701.5 524.8,713.2 525.9,741.6 527.0,712.4 528.1,755.9 529.2,689.9 530.3,752.0 531.4,729.1 532.5,677.8 533.6,702.2 534.7,731.3 535.8,698.3 536.9,743.3 538.0,717.9 539.1,743.4 540.2,775.8 541.3,732.8 542.4,718.5 543.5,760.5 544.6,788.1 545.7,769.3 546.8,840.8 547.9,774.7 549.0,792.7 550.1,694.7 551.2,777.1 552.3,814.4 553.4,732.3 554.5,767.5 555.6,761.2 556.7,757.8 557.8,758.4 558.9,779.5 560.0,736.8 561.1,751.7 562.2,787.3 563.3,776.7 564.4,805.4 565.5,763.0 566.6,748.8 567.7,752.4 568.8,754.3 569.9,780.1 571.0,725.6 572.1,784.6 573.2,777.1 574.3,790.8 575.4,777.0 576.5,789.1 577.6,716.4 578.7,767.6 579.8,847.1 580.9,799.4 582.0,838.0 583.1,755.7 584.2,740.7 585.3,803.3 586.4,766.8 587.5,796.2 588.6,775.4 589.7,733.4 590.8,803.8 591.9,838.7 593.0,768.0 594.1,775.6 595.2,771.1 596.3,760.1 597.4,998.1 598.5,875.3 599.6,761.9 600.7,813.5 601.8,845.7 602.9,845.0 604.0,762.1 605.1,795.2 606.2,791.7 607.3,773.6 608.4,829.7 609.5,848.5 610.6,838.2 611.7,849.1 612.8,817.7 613.9,841.8 615.0,806.8 616.1,827.0 617.2,812.5 618.3,786.9 619.4,762.3 620.5,757.8 621.6,807.9 622.7,805.0 623.8,832.8 624.9,778.4 626.0,761.6 627.1,838.2 628.2,788.5 629.3,829.2 630.4,823.8 631.5,811.1 632.6,834.0 633.7,787.1 634.8,881.0 635.9,847.8 637.0,825.8 638.1,863.6 639.2,809.2 640.3,885.5 641.4,821.8 642.5,883.7 643.6,830.7 644.7,807.0 645.8,750.5 646.9,788.1 648.0,770.5 649.1,825.9 650.2,755.5 651.3,839.1 652.4,840.2 653.5,884.0 654.6,823.2 655.7,793.7 656.8,858.3 657.9,848.3 659.0,852.7 660.1,848.1 661.2,859.3 662.3,892.9 663.4,786.6 664.5,923.7 665.6,876.3 666.7,825.6 667.8,801.7 668.9,848.2 670.0,851.7 671.1,839.1 672.2,852.0 673.3,809.1 674.4,862.2 675.5,884.2 676.6,862.9 677.7,840.5 678.8,799.1 679.9,786.8 681.0,862.1 682.1,909.6 683.2,906.5 684.3,771.2 685.4,864.5 686.5,830.9 687.6,779.5 688.7,878.0 689.8,858.2 690.9,874.8 692.0,898.1 693.1,821.2 694.2,812.0 695.3,937.3 696.4,816.0 697.5,863.8 698.6,847.4 699.7,847.3 700.8,912.7 701.9,869.1 703.0,899.3 704.1,786.7 705.2,778.1 706.3,855.1 707.4,910.4 708.5,815.2 709.6,868.0 710.7,795.4 711.8,788.2 712.9,798.9 714.0,878.9 715.1,906.2 716.2,891.7 717.3,868.0 718.4,904.6 719.5,818.9 720.6,839.5 721.7,867.6 722.8,883.7 723.9,841.3 725.0,814.6 726.1,958.5 727.2,859.3 728.3,882.0 729.4,901.7 730.5,884.1 731.6,864.3 732.7,799.3 733.8,867.9 734.9,888.8 736.0,925.6 737.1,839.9 738.2,903.7 739.3,876.0 740.4,842.8 741.5,869.4 742.6,888.3 743.7,879.3 744.8,836.4 745.9,873.2 747.0,862.6 748.1,855.5 749.2,887.2 750.3,859.7 751.4,885.1 752.5,828.8 753.6,853.3 754.7,954.6 755.8,882.9 756.9,830.4 758.0,883.5 759.1,892.9 760.2,835.3 761.3,923.6 762.4,872.6 763.5,851.5 764.6,841.4 765.7,922.1 766.8,932.6 767.9,818.0 769.0,910.8 770.1,880.4 771.2,786.0 772.3,897.2 773.4,984.3 774.5,774.8 775.6,837.1 776.7,863.0 777.8,775.6 778.9,881.4 780.0,821.7 781.1,878.1 782.2,890.6 783.3,853.1 784.4,843.4 785.5,828.6 786.6,832.0 787.7,901.5 788.8,883.4 789.9,805.6 791.0,855.3 792.1,876.4 793.2,827.4 794.3,825.6 795.4,829.9 796.5,905.3 797.6,898.2 798.7,851.0 799.8,834.2 800.9,936.8 802.0,902.2 803.1,892.4 804.2,842.0 805.3,932.2 806.4,782.1 807.5,879.4 808.6,857.8 809.7,798.5 810.8,857.8 811.9,853.0 813.0,891.6 814.1,864.6 815.2,932.5 816.3,887.8 817.4,883.1 818.5,929.9 819.6,844.2 820.7,866.3 821.8,975.3 822.9,853.2 824.0,927.8 825.1,861.8 826.2,922.3 827.3,902.1 828.4,869.0 829.5,811.3 830.6,958.3 831.7,902.3 832.8,902.3 833.9,843.1 835.0,898.4 836.1,870.3 837.2,834.6 838.3,856.6 839.4,906.8 840.5,907.8 841.6,900.5 842.7,882.4 843.8,928.2 844.9,891.7 846.0,865.4 847.1,910.6 848.2,911.2 849.3,878.0 850.4,857.1 851.5,953.4 852.6,935.8 853.7,838.7 854.8,891.8 855.9,941.9 857.0,885.8 858.1,828.0 859.2,919.0 860.3,935.5 861.4,902.5 862.5,828.1 863.6,921.4 864.7,869.6 865.8,850.8 866.9,866.2 868.0,907.5 869.1,865.2 870.2,885.4 871.3,859.0 872.4,876.2 873.5,886.8 874.6,977.3 875.7,866.1 876.8,898.3 877.9,997.0 879.0,895.4 880.1,881.0 881.2,899.0 882.3,1019.3 883.4,926.9 884.5,938.6 885.6,908.3 886.7,1011.2 887.8,882.3 888.9,871.9 890.0,870.4 891.1,897.1 892.2,899.2 893.3,853.4 894.4,875.8 895.5,913.8 896.6,882.4 897.7,866.2 898.8,846.4 899.9,875.6 901.0,931.4 902.1,917.6 903.2,886.3 904.3,882.7 905.4,853.9 906.5,988.6 907.6,928.6 908.7,950.0 909.8,851.9 910.9,864.3 912.0,882.2 913.1,862.9 914.2,922.2 915.3,874.5 916.4,894.1 917.5,892.8 918.6,902.4 919.7,857.6 920.8,853.4 921.9,965.5 923.0,921.1 924.1,894.0 925.2,873.5 926.3,975.6 927.4,940.6 928.5,911.8 929.6,828.6 930.7,938.3 931.8,916.0 932.9,900.0 934.0,903.3 935.1,892.2 936.2,900.3 937.3,907.4 938.4,887.1 939.5,887.5 940.6,883.3 941.7,882.5 942.8,954.6 943.9,892.2 945.0,893.3 946.1,867.3 947.2,871.0 948.3,837.7 949.4,936.9 950.5,906.2 951.6,891.1 952.7,929.2 953.8,912.6 954.9,917.3 956.0,922.3 957.1,812.2 958.2,904.3 959.3,841.4 960.4,940.6 961.5,889.1 962.6,930.2 963.7,886.8 964.8,834.6 965.9,824.5 967.0,867.5 968.1,882.1 969.2,901.4 970.3,885.0 971.4,845.8 972.5,980.8 973.6,915.5 974.7,947.2 975.8,860.3 976.9,960.9 978.0,867.2 979.1,956.7 980.2,952.9 981.3,841.8 982.4,860.4 983.5,944.3 984.6,988.2 985.7,946.8 986.8,878.1 987.9,904.6 989.0,947.2 990.1,880.6 991.2,847.6 992.3,957.0 993.4,907.5 994.5,941.1 995.6,858.8 996.7,899.4 997.8,934.3 998.9,985.3 1000.0,875.2 1001.1,917.5 1002.2,899.0 1003.3,913.2 1004.4,887.7 1005.5,991.0 1006.6,943.3 1007.7,891.0 1008.8,833.0 1009.9,891.9 1011.0,909.0 1012.1,935.2 1013.2,936.7 1014.3,915.8 1015.4,942.8 1016.5,900.7 1017.6,905.7 1018.7,826.9 1019.8,910.4 1020.9,860.3 1022.0,925.5 1023.1,866.4 1024.2,811.2 1025.3,932.5 1026.4,961.3 1027.5,861.9 1028.6,903.7 1029.7,917.9 1030.8,887.0 1031.9,893.6 1033.0,855.1 1034.1,888.3 1035.2,932.5 1036.3,959.0 1037.4,991.9 1038.5,957.6 1039.6,860.6 1040.7,976.6 1041.8,904.5 1042.9,856.2 1044.0,881.9 1045.1,844.8 1046.2,875.9 1047.3,843.5 1048.4,933.8 1049.5,946.1 1050.6,829.4 1051.7,892.6 1052.8,903.7 1053.9,933.8 1055.0,842.7 1056.1,887.0 1057.2,886.5 1058.3,937.9 1059.4,904.5 1060.5,927.7 1061.6,912.9 1062.7,894.4 1063.8,932.0 1064.9,948.1 1066.0,875.3 1067.1,957.0 1068.2,851.4 1069.3,846.3 1070.4,976.9 1071.5,843.5 1072.6,947.9 1073.7,855.0 1074.8,936.1 1075.9,876.9 1077.0,959.5 1078.1,882.3 1079.2,906.2 1080.3,845.0 1081.4,877.6 1082.5,952.1 1083.6,896.1 1084.7,941.4 1085.8,901.9 1086.9,846.9 1088.0,845.7 1089.1,902.8 1090.2,948.3 1091.3,906.8 1092.4,827.0 1093.5,916.2 1094.6,981.8 1095.7,978.1 1096.8,968.1 1097.9,865.2 1099.0,926.3 1100.1,945.7 1101.2,895.5 1102.3,870.1 1103.4,917.9 1104.5,948.9 1105.6,901.9 1106.7,876.5 1107.8,994.1 1108.9,980.3 1110.0,831.4 1111.1,892.9 1112.2,896.0 1113.3,980.3 1114.4,959.0 1115.5,924.1 1116.6,859.8 1117.7,908.2 1118.8,993.4 1119.9,849.0 1121.0,847.3 1122.1,875.3 1123.2,965.8 1124.3,943.1 1125.4,925.3 1126.5,907.4 1127.6,839.9 1128.7,979.6 1129.8,946.9 1130.9,914.3 1132.0,940.3 1133.1,937.6 1134.2,987.8 1135.3,912.4 1136.4,929.5 1137.5,906.8 1138.6,875.2 1139.7,927.1 1140.8,920.6 1141.9,903.2 1143.0,936.1 1144.1,906.4 1145.2,1004.0 1146.3,956.4 1147.4,893.1 1148.5,906.7 1149.6,880.4 1150.7,981.4 1151.8,940.8 1152.9,919.6 1154.0,920.5 1155.1,926.4 1156.2,857.1 1157.3,937.9 1158.4,931.3 1159.5,894.3 1160.6,896.0 1161.7,910.8 1162.8,848.3 1163.9,892.2 1165.0,927.8 1166.1,963.4 1167.2,865.5 1168.3,946.5 1169.4,900.2 1170.5,942.0 1171.6,832.4 1172.7,886.0 1173.8,1007.3 1174.9,905.0 1176.0,986.3 1177.1,944.4 1178.2,883.3 1179.3,981.9 1180.4,903.7 1181.5,921.8 1182.6,885.9 1183.7,965.5 1184.8,891.7 1185.9,935.6 1187.0,875.0 1188.1,917.2 1189.2,890.5 1190.3,862.8 1191.4,872.7 1192.5,920.9 1193.6,888.9 1194.7,919.8 1195.8,901.0 1196.9,852.5 1198.0,961.4 1199.1,978.5 1200.2,899.2 1201.3,947.1 1202.4,868.3 1203.5,883.5 1204.6,893.2 1205.7,921.7 1206.8,942.7 1207.9,963.5 1209.0,947.1 1210.1,922.6 1211.2,967.6 1212.3,877.4 1213.4,893.5 1214.5,986.6 1215.6,1071.7 1216.7,874.5 1217.8,981.7 1218.9,1085.5 1220.0,1006.5 1221.1,1125.8 1222.2,864.5 1223.3,881.6 1224.4,859.8 1225.5,847.9 1226.6,844.6 1227.7,967.9 1228.8,930.4 1229.9,951.1 1231.0,918.9 1232.1,937.9 1233.2,909.7 1234.3,845.9 1235.4,955.5 1236.5,889.3 1237.6,969.1 1238.7,986.3 1239.8,878.2 1240.9,928.4 1242.0,918.9 1243.1,861.0 1244.2,988.7 1245.3,918.8 1246.4,860.5 1247.5,972.9 1248.6,910.8 1249.7,882.2 1250.8,882.2 1251.9,892.9 1253.0,880.4 1254.1,901.2 1255.2,888.3 1256.3,905.6 1257.4,966.7 1258.5,917.8 1259.6,928.1 1260.7,874.3 1261.8,900.5 1262.9,900.1 1264.0,914.6 1265.1,894.1 1266.2,949.0 1267.3,910.7 1268.4,956.0 1269.5,939.7 1270.6,978.4 1271.7,833.2 1272.8,896.7 1273.9,970.0 1275.0,941.1 1276.1,908.4 1277.2,944.8 1278.3,891.3 1279.4,904.2 1280.5,874.8 1281.6,1084.5 1282.7,891.1 1283.8,913.7 1284.9,880.9 1286.0,951.2 1287.1,959.8 1288.2,980.7 1289.3,903.7 1290.4,917.4 1291.5,1012.6 1292.6,951.8 1293.7,926.2 1294.8,984.5 1295.9,942.6 1297.0,930.2 1298.1,952.6 1299.2,1009.0 1300.3,876.2 1301.4,914.5 1302.5,910.2 1303.6,953.3 1304.7,917.9 1305.8,958.6 1306.9,931.7 1308.0,919.9 1309.1,900.2 1310.2,954.2 1311.3,963.6 1312.4,872.9 1313.5,996.5 1314.6,917.7 1315.7,931.6 1316.8,896.4 1317.9,947.1 1319.0,977.7 1320.1,921.6 1321.2,995.3 1322.3,979.2 1323.4,928.4 1324.5,922.0 1325.6,1001.7 1326.7,873.3 1327.8,929.5 1328.9,874.5 1330.0,879.9 1331.1,925.3 1332.2,947.0 1333.3,999.7 1334.4,884.5 1335.5,862.8 1336.6,1220.7 1337.7,925.5 1338.8,972.3 1339.9,978.3 1341.0,933.4 1342.1,876.0 1343.2,941.3 1344.3,890.0 1345.4,910.5 1346.5,933.6 1347.6,969.0 1348.7,946.0 1349.8,988.3 1350.9,891.1 1352.0,906.0 1353.1,976.2 1354.2,961.1 1355.3,994.6 1356.4,921.5 1357.5,901.8 1358.6,972.1 1359.7,949.3 1360.8,911.5 1361.9,1013.9 1363.0,917.9 1364.1,862.4 1365.2,860.1 1366.3,934.7 1367.4,930.7 1368.5,895.5 1369.6,898.8 1370.7,866.1 1371.8,916.7 1372.9,912.6 1374.0,912.9 1375.1,857.0 1376.2,972.9 1377.3,872.3 1378.4,915.1 1379.5,912.6 1380.6,965.1 1381.7,927.0 1382.8,968.0 1383.9,1067.0 1385.0,914.5 1386.1,991.7 1387.2,922.9 1388.3,989.8 1389.4,942.4 1390.5,944.1 1391.6,1013.5 1392.7,925.0 1393.8,953.8 1394.9,1054.0 1396.0,851.0 1397.1,904.1 1398.2,909.8 1399.3,924.3 1400.4,889.4 1401.5,948.7 1402.6,894.4 1403.7,885.1 1404.8,949.4 1405.9,923.9 1407.0,919.2 1408.1,999.9 1409.2,910.2 1410.3,929.2 1411.4,874.4 1412.5,919.0 1413.6,968.6 1414.7,921.0 1415.8,951.3 1416.9,1053.8 1418.0,937.5 1419.1,991.7 1420.2,874.4 1421.3,914.4 1422.4,890.8 1423.5,913.1 1424.6,938.5 1425.7,898.9 1426.8,1007.1 1427.9,894.8 1429.0,935.7 1430.1,1033.7 1431.2,937.4 1432.3,903.5 1433.4,952.5 1434.5,871.7 1435.6,875.3 1436.7,958.8 1437.8,966.7 1438.9,940.4 1440.0,952.5 1441.1,898.6 1442.2,883.2 1443.3,901.3 1444.4,900.0 1445.5,932.7 1446.6,936.2 1447.7,963.2 1448.8,835.7 1449.9,890.4 1451.0,904.0 1452.1,962.0 1453.2,1007.6 1454.3,967.0 1455.4,951.1 1456.5,947.8 1457.6,902.6 1458.7,949.1 1459.8,902.7 1460.9,909.0 1462.0,900.8 1463.1,936.3 1464.2,896.9 1465.3,924.3 1466.4,922.5 1467.5,938.9 1468.6,937.2 1469.7,921.2 1470.8,901.5 1471.9,965.7 1473.0,945.6 1474.1,929.2 1475.2,883.5 1476.3,931.1 1477.4,903.3 1478.5,891.5 1479.6,930.4 1480.7,865.6 1481.8,1265.7 1482.9,1000.3 1484.0,988.7 1485.1,972.6 1486.2,960.4 1487.3,945.6 1488.4,916.4 1489.5,955.3 1490.6,958.8 1491.7,907.1 1492.8,941.4 1493.9,923.1 1495.0,953.5 1496.1,998.8 1497.2,936.3 1498.3,939.5 1499.4,917.2 1500.5,934.0 1501.6,974.6 1502.7,871.2 1503.8,996.8 1504.9,1034.6 1506.0,967.0 1507.1,961.3 1508.2,913.1 1509.3,963.8 1510.4,936.1 1511.5,925.3 1512.6,905.4 1513.7,1171.5 1514.8,925.5 1515.9,999.3 1517.0,888.0 1518.1,974.5 1519.2,970.8 1520.3,913.6 1521.4,938.4 1522.5,941.8 1523.6,905.6 1524.7,961.2 1525.8,967.2 1526.9,892.4 1528.0,964.1 1529.1,928.8 1530.2,999.9 1531.3,938.6 1532.4,952.8 1533.5,919.9 1534.6,845.1 1535.7,1041.2 1536.8,986.5 1537.9,953.5 1539.0,931.3 1540.1,1013.6 1541.2,940.1 1542.3,979.2 1543.4,934.7 1544.5,985.1 1545.6,825.0 1546.7,928.2 1547.8,906.1 1548.9,1068.5 1550.0,978.5 1551.1,946.2 1552.2,865.5 1553.3,980.0 1554.4,921.1 1555.5,983.6 1556.6,944.7 1557.7,1041.7 1558.8,1042.1 1559.9,976.9 1561.0,901.2 1562.1,900.8 1563.2,948.1 1564.3,1004.9 1565.4,889.3 1566.5,956.1 1567.6,985.1 1568.7,958.1 1569.8,951.6 1570.9,865.7 1572.0,940.3 1573.1,965.3 1574.2,961.4 1575.3,1022.0 1576.4,884.7 1577.5,988.3 1578.6,934.0 1579.7,989.6 1580.8,979.3 1581.9,1061.2 1583.0,936.1 1584.1,846.9 1585.2,862.6 1586.3,920.7 1587.4,877.9 1588.5,978.7 1589.6,998.5 1590.7,888.5 1591.8,973.1 1592.9,850.0 1594.0,878.7 1595.1,998.7 1596.2,957.8 1597.3,957.6 1598.4,905.4 1599.5,959.0 1600.6,941.9 1601.7,1020.7 1602.8,870.2 1603.9,900.6 1605.0,937.0 1606.1,1026.1 1607.2,933.0 1608.3,819.2 1609.4,921.6 1610.5,885.8 1611.6,1061.6 1612.7,955.8 1613.8,952.3 1614.9,892.5 1616.0,991.4 1617.1,902.6 1618.2,892.4 1619.3,936.9 1620.4,949.8 1621.5,920.5 1622.6,994.5 1623.7,1028.4 1624.8,1034.9 1625.9,934.9 1627.0,957.0 1628.1,949.8 1629.2,971.4 1630.3,948.6 1631.4,863.1 1632.5,959.3 1633.6,991.0 1634.7,1008.8 1635.8,994.1 1636.9,918.8 1638.0,955.8 1639.1,964.6 1640.2,955.6 1641.3,1022.5 1642.4,991.9 1643.5,965.9 1644.6,966.5 1645.7,934.0 1646.8,905.3 1647.9,980.2 1649.0,931.4 1650.1,928.2 1651.2,976.9 1652.3,921.0 1653.4,902.0 1654.5,1035.0 1655.6,926.8 1656.7,927.2 1657.8,931.5 1658.9,1029.1 1660.0,900.8 1661.1,953.2 1662.2,988.0 1663.3,1031.8 1664.4,926.8 1665.5,955.2 1666.6,1019.9 1667.7,874.5 1668.8,1011.8 1669.9,915.5 1671.0,996.4 1672.1,956.0 1673.2,915.2 1674.3,958.6 1675.4,920.4 1676.5,944.3 1677.6,878.5 1678.7,911.0 1679.8,921.2 1680.9,980.2 1682.0,964.0 1683.1,933.7 1684.2,869.2 1685.3,876.9 1686.4,934.2 1687.5,890.4 1688.6,935.0 1689.7,931.4 1690.8,938.7 1691.9,956.6 1693.0,918.1 1694.1,816.2 1695.2,955.2 1696.3,890.0 1697.4,900.9 1698.5,939.0 1699.6,906.0 1700.7,962.7 1701.8,934.5 1702.9,877.3 1704.0,872.2 1705.1,941.9 1706.2,949.5 1707.3,1010.8 1708.4,907.1 1709.5,968.8 1710.6,985.1 1711.7,931.5 1712.8,943.8 1713.9,1018.7 1715.0,889.9 1716.1,1034.2 1717.2,1032.4 1718.3,901.1 1719.4,959.3 1720.5,1038.7 1721.6,898.2 1722.7,904.6 1723.8,954.9 1724.9,949.7 1726.0,936.9 1727.1,908.2 1728.2,952.5 1729.3,1004.3 1730.4,951.0 1731.5,972.0 1732.6,1035.3 1733.7,971.6 1734.8,1001.7 1735.9,941.7 1737.0,892.8 1738.1,923.6 1739.2,829.5 1740.3,925.6 1741.4,939.3 1742.5,993.4 1743.6,906.9 1744.7,929.4 1745.8,1036.2 1746.9,979.4 1748.0,916.3 1749.1,969.4 1750.2,926.7 1751.3,935.9 1752.4,857.4 1753.5,1026.5 1754.6,954.5 1755.7,1017.7 1756.8,992.4 1757.9,861.4 1759.0,903.4 1760.1,917.9 1761.2,948.6 1762.3,944.1 1763.4,857.7 1764.5,999.8 1765.6,887.6 1766.7,895.2 1767.8,992.6 1768.9,934.3 1770.0,981.2 1771.1,942.9 1772.2,904.7 1773.3,930.8 1774.4,889.5 1775.5,909.9 1776.6,1073.9 1777.7,907.3 1778.8,1012.9 1779.9,1126.1 1781.0,962.1 1782.1,972.0 1783.2,855.8 1784.3,898.0 1785.4,905.6 1786.5,942.1 1787.6,903.3 1788.7,978.2 1789.8,894.2 1790.9,967.8 1792.0,952.7 1793.1,931.4 1794.2,981.2 1795.3,822.4 1796.4,934.8 1797.5,965.6 1798.6,993.5 1799.7,978.2 1800.8,947.4 1801.9,919.4 1803.0,1025.5 1804.1,968.6 1805.2,865.7 1806.3,930.4 1807.4,944.5 1808.5,964.5 1809.6,956.6 1810.7,938.5 1811.8,882.9 1812.9,884.9 1814.0,972.7 1815.1,990.6 1816.2,922.3 1817.3,974.2 1818.4,900.9 1819.5,895.0 1820.6,983.9 1821.7,1066.2 1822.8,1020.5 1823.9,951.9 1825.0,1009.8 1826.1,932.4 1827.2,937.4 1828.3,945.5 1829.4,955.0 1830.5,983.4 1831.6,919.8 1832.7,1056.1 1833.8,927.2 1834.9,849.4 1836.0,889.4 1837.1,947.2 1838.2,961.8 1839.3,929.3 1840.4,954.6 1841.5,874.6 1842.6,976.4 1843.7,957.1 1844.8,1010.9 1845.9,920.6 1847.0,1034.6 1848.1,910.1 1849.2,922.5 1850.3,1016.3 1851.4,928.9 1852.5,961.2 1853.6,976.0 1854.7,1020.0 1855.8,1037.7 1856.9,1027.2 1858.0,1041.4 1859.1,946.9 1860.2,1001.9 1861.3,857.4 1862.4,931.4 1863.5,896.6 1864.6,984.0 1865.7,879.5 1866.8,971.1 1867.9,903.4 1869.0,932.3 1870.1,916.0 1871.2,1010.4 1872.3,998.1 1873.4,905.7 1874.5,927.5 1875.6,978.9 1876.7,921.2 1877.8,944.3 1878.9,978.6 1880.0,860.5 1881.1,1082.7 1882.2,963.4 1883.3,909.1 1884.4,929.4 1885.5,863.4 1886.6,921.5 1887.7,925.0 1888.8,981.4 1889.9,877.1 1891.0,979.7 1892.1,966.6 1893.2,966.6 1894.3,919.2 1895.4,979.1 1896.5,952.5 1897.6,975.3 1898.7,1046.4 1899.8,984.1 1900.9,860.5 1902.0,969.3 1903.1,941.4 1904.2,840.4 1905.3,989.7 1906.4,916.5 1907.5,894.5 1908.6,999.4 1909.7,880.5 1910.8,908.1 1911.9,1013.1 1913.0,946.2 1914.1,1014.6 1915.2,832.5 1916.3,858.0 1917.4,948.9 1918.5,984.6 1919.6,928.5 1920.7,1010.4 1921.8,961.9 1922.9,1008.9 1924.0,962.9 1925.1,930.3 1926.2,934.5 1927.3,916.2 1928.4,975.9 1929.5,909.5 1930.6,945.7 1931.7,933.4 1932.8,883.2" fill="none" stroke="#0000FF" stroke-width="3.55" stroke-linejoin="round" stroke-linecap="round"/>
<polyline points="456.6,1327.9 456.6,167.2 457.7,185.9 458.8,189.5 459.9,214.9 461.0,225.4 462.1,222.0 463.2,269.9 464.3,281.8 465.4,286.9 466.5,310.3 467.6,339.8 468.7,340.5 469.8,354.0 470.9,349.5 472.0,398.7 473.1,393.1 474.2,372.7 475.3,371.5 476.4,442.2 477.5,413.2 478.6,455.1 479.7,464.7 480.8,477.1 481.9,479.8 483.0,462.7 484.1,479.6 485.2,504.8 486.3,525.9 487.4,528.6 488.5,538.7 489.6,525.7 490.7,566.7 491.8,559.1 492.9,569.1 494.0,575.5 495.1,575.5 496.2,584.3 497.3,563.8 498.4,606.8 499.5,572.5 500.6,626.3 501.7,636.2 502.8,625.2 503.9,623.3 505.0,630.6 506.1,608.1 507.2,616.8 508.3,639.2 509.4,668.3 510.5,666.3 511.6,628.3 512.7,666.8 513.8,720.8 514.9,704.9 516.0,704.8 517.1,655.5 518.2,696.6 519.3,631.1 520.4,679.7 521.5,699.5 522.6,721.2 523.7,679.9 524.8,721.6 525.9,745.3 527.0,702.1 528.1,723.5 529.2,689.3 530.3,733.2 531.4,847.3 532.5,711.1 533.6,811.2 534.7,692.9 535.8,686.9 536.9,763.8 538.0,794.8 539.1,807.3 540.2,727.0 541.3,767.1 542.4,784.8 543.5,774.3 544.6,698.7 545.7,758.5 546.8,747.3 547.9,748.9 549.0,743.3 550.1,743.8 551.2,810.9 552.3,793.1 553.4,816.4 554.5,816.1 555.6,748.6 556.7,811.0 557.8,796.0 558.9,822.2 560.0,819.8 561.1,768.5 562.2,817.2 563.3,820.3 564.4,783.9 565.5,785.2 566.6,776.0 567.7,918.7 568.8,886.0 569.9,786.6 571.0,793.1 572.1,775.4 573.2,851.2 574.3,727.3 575.4,872.3 576.5,792.2 577.6,820.3 578.7,844.2 579.8,793.4 580.9,838.7 582.0,940.0 583.1,881.8 584.2,813.4 585.3,750.2 586.4,902.6 587.5,837.4 588.6,781.9 589.7,815.3 590.8,857.8 591.9,908.9 593.0,929.5 594.1,879.8 595.2,864.2 596.3,961.6 597.4,932.5 598.5,840.1 599.6,872.7 600.7,890.5 601.8,876.0 602.9,896.8 604.0,822.4 605.1,796.5 606.2,782.2 607.3,835.7 608.4,835.7 609.5,808.7 610.6,799.2 611.7,810.5 612.8,821.2 613.9,902.7 615.0,954.2 616.1,837.4 617.2,880.4 618.3,879.6 619.4,920.9 620.5,943.6 621.6,821.1 622.7,860.5 623.8,934.5 624.9,865.7 626.0,870.5 627.1,862.0 628.2,795.0 629.3,888.9 630.4,953.0 631.5,887.7 632.6,921.7 633.7,866.7 634.8,882.7 635.9,877.6 637.0,922.1 638.1,876.5 639.2,921.4 640.3,873.9 641.4,913.1 642.5,956.8 643.6,877.6 644.7,936.8 645.8,839.3 646.9,883.1 648.0,882.9 649.1,900.9 650.2,909.6 651.3,1045.8 652.4,853.9 653.5,951.4 654.6,867.1 655.7,944.2 656.8,919.9 657.9,925.0 659.0,969.5 660.1,924.4 661.2,894.3 662.3,938.9 663.4,1123.5 664.5,949.5 665.6,908.9 666.7,869.1 667.8,883.7 668.9,909.9 670.0,977.7 671.1,882.2 672.2,924.1 673.3,938.0 674.4,883.3 675.5,897.0 676.6,902.9 677.7,990.4 678.8,960.0 679.9,1025.9 681.0,919.4 682.1,928.0 683.2,885.6 684.3,919.8 685.4,949.9 686.5,837.2 687.6,987.8 688.7,1006.8 689.8,964.9 690.9,907.4 692.0,951.7 693.1,957.1 694.2,996.3 695.3,866.5 696.4,968.5 697.5,995.4 698.6,942.6 699.7,980.4 700.8,949.3 701.9,874.9 703.0,961.7 704.1,941.1 705.2,958.4 706.3,949.5 707.4,900.0 708.5,914.0 709.6,958.9 710.7,992.6 711.8,948.8 712.9,901.5 714.0,943.6 715.1,949.8 716.2,1051.5 717.3,895.8 718.4,1031.2 719.5,1018.3 720.6,965.5 721.7,944.1 722.8,944.0 723.9,988.9 725.0,963.9 726.1,980.8 727.2,1057.4 728.3,962.1 729.4,986.9 730.5,927.6 731.6,956.8 732.7,902.0 733.8,914.8 734.9,905.4 736.0,891.4 737.1,915.5 738.2,959.3 739.3,885.5 740.4,1003.2 741.5,953.0 742.6,908.6 743.7,967.0 744.8,915.9 745.9,996.9 747.0,981.8 748.1,924.7 749.2,916.9 750.3,894.5 751.4,956.8 752.5,937.9 753.6,921.8 754.7,929.8 755.8,1030.1 756.9,985.6 758.0,884.8 759.1,1027.1 760.2,922.9 761.3,978.3 762.4,905.5 763.5,999.2 764.6,953.1 765.7,1083.1 766.8,958.4 767.9,903.2 769.0,1046.4 770.1,898.5 771.2,997.1 772.3,960.0 773.4,1147.2 774.5,904.2 775.6,1007.7 776.7,987.9 777.8,1033.6 778.9,1015.7 780.0,902.2 781.1,987.2 782.2,914.2 783.3,969.0 784.4,941.6 785.5,988.0 786.6,937.9 787.7,841.9 788.8,927.1 789.9,934.6 791.0,987.4 792.1,910.5 793.2,894.7 794.3,1066.6 795.4,1044.5 796.5,863.1 797.6,940.1 798.7,955.6 799.8,933.6 800.9,908.1 802.0,922.3 803.1,975.6 804.2,865.9 805.3,963.1 806.4,1014.4 807.5,995.6 808.6,971.7 809.7,985.7 810.8,975.2 811.9,948.5 813.0,1164.9 814.1,1010.2 815.2,917.6 816.3,936.7 817.4,1005.0 818.5,1001.9 819.6,909.4 820.7,980.5 821.8,997.0 822.9,877.9 824.0,988.2 825.1,932.3 826.2,970.5 827.3,965.4 828.4,1023.8 829.5,1016.6 830.6,905.9 831.7,1036.9 832.8,954.5 833.9,1041.1 835.0,983.1 836.1,972.0 837.2,1177.0 838.3,913.0 839.4,980.8 840.5,909.6 841.6,1026.0 842.7,924.4 843.8,861.1 844.9,960.0 846.0,1009.1 847.1,946.8 848.2,964.7 849.3,984.2 850.4,979.3 851.5,1006.0 852.6,950.4 853.7,995.0 854.8,1023.5 855.9,931.0 857.0,982.7 858.1,850.2 859.2,987.8 860.3,1015.6 861.4,1005.6 862.5,954.3 863.6,1014.8 864.7,1051.5 865.8,893.6 866.9,1050.3 868.0,899.5 869.1,967.4 870.2,1038.9 871.3,893.0 872.4,986.9 873.5,1035.8 874.6,972.2 875.7,910.8 876.8,940.1 877.9,933.1 879.0,889.9 880.1,964.8 881.2,956.4 882.3,989.5 883.4,1067.7 884.5,985.1 885.6,896.8 886.7,1088.4 887.8,909.5 888.9,963.4 890.0,1032.0 891.1,974.3 892.2,890.4 893.3,1011.4 894.4,936.8 895.5,920.4 896.6,1032.1 897.7,945.2 898.8,950.3 899.9,1006.4 901.0,942.9 902.1,1000.0 903.2,1013.0 904.3,1055.6 905.4,958.9 906.5,1004.6 907.6,1012.5 908.7,1050.4 909.8,1217.4 910.9,1027.3 912.0,942.0 913.1,1029.1 914.2,907.8 915.3,958.9 916.4,972.5 917.5,1055.4 918.6,885.5 919.7,1072.3 920.8,953.0 921.9,897.3 923.0,993.3 924.1,1022.5 925.2,983.4 926.3,934.4 927.4,913.3 928.5,950.4 929.6,1048.2 930.7,1022.8 931.8,972.0 932.9,1062.8 934.0,997.2 935.1,874.9 936.2,1048.4 937.3,923.8 938.4,1040.4 939.5,1003.8 940.6,988.3 941.7,1080.5 942.8,1299.3 943.9,918.1 945.0,946.6 946.1,947.7 947.2,1033.4 948.3,993.6 949.4,974.2 950.5,949.2 951.6,916.8 952.7,1046.9 953.8,900.6 954.9,1002.7 956.0,1000.8 957.1,1061.7 958.2,990.4 959.3,999.8 960.4,1064.0 961.5,1003.8 962.6,980.4 963.7,1011.3 964.8,945.8 965.9,1050.5 967.0,940.5 968.1,998.5 969.2,967.5 970.3,1111.0 971.4,981.1 972.5,992.0 973.6,939.0 974.7,1062.4 975.8,918.5 976.9,1056.1 978.0,921.0 979.1,957.9 980.2,1034.9 981.3,882.8 982.4,1064.7 983.5,999.8 984.6,978.4 985.7,961.6 986.8,977.7 987.9,947.5 989.0,965.3 990.1,988.9 991.2,1047.9 992.3,1011.2 993.4,943.0 994.5,1064.5 995.6,985.2 996.7,1132.1 997.8,1033.6 998.9,1098.4 1000.0,926.9 1001.1,1114.4 1002.2,1006.2 1003.3,953.0 1004.4,959.3 1005.5,951.0 1006.6,936.6 1007.7,966.8 1008.8,948.1 1009.9,996.2 1011.0,994.6 1012.1,1110.8 1013.2,983.8 1014.3,927.0 1015.4,1038.9 1016.5,1067.3 1017.6,988.4 1018.7,933.7 1019.8,930.3 1020.9,1091.5 1022.0,969.0 1023.1,1033.5 1024.2,978.5 1025.3,1153.8 1026.4,944.7 1027.5,1017.6 1028.6,982.7 1029.7,1004.8 1030.8,1059.0 1031.9,965.5 1033.0,1023.2 1034.1,1036.3 1035.2,958.7 1036.3,999.6 1037.4,1037.3 1038.5,944.6 1039.6,1030.5 1040.7,996.9 1041.8,955.2 1042.9,944.6 1044.0,932.0 1045.1,910.4 1046.2,992.8 1047.3,1044.4 1048.4,911.0 1049.5,923.1 1050.6,1013.3 1051.7,957.5 1052.8,1018.2 1053.9,1098.4 1055.0,940.6 1056.1,976.7 1057.2,989.2 1058.3,909.6 1059.4,921.7 1060.5,1035.2 1061.6,1066.4 1062.7,1125.9 1063.8,996.2 1064.9,1019.5 1066.0,976.4 1067.1,996.0 1068.2,1036.7 1069.3,1020.9 1070.4,1099.8 1071.5,932.2 1072.6,1029.1 1073.7,963.5 1074.8,1037.2 1075.9,993.3 1077.0,962.7 1078.1,1013.6 1079.2,1047.8 1080.3,882.6 1081.4,1009.3 1082.5,966.3 1083.6,1002.5 1084.7,1045.4 1085.8,928.8 1086.9,976.1 1088.0,978.9 1089.1,1161.2 1090.2,982.0 1091.3,952.7 1092.4,982.4 1093.5,1007.1 1094.6,935.2 1095.7,984.6 1096.8,966.5 1097.9,943.1 1099.0,945.0 1100.1,1083.9 1101.2,980.0 1102.3,1045.9 1103.4,1138.8 1104.5,983.0 1105.6,1116.7 1106.7,1027.3 1107.8,1185.0 1108.9,1063.8 1110.0,1027.8 1111.1,1000.0 1112.2,1032.3 1113.3,1057.5 1114.4,1056.0 1115.5,920.1 1116.6,1028.3 1117.7,1005.7 1118.8,904.0 1119.9,1118.3 1121.0,1145.6 1122.1,1064.8 1123.2,1024.0 1124.3,1073.8 1125.4,1003.0 1126.5,1005.8 1127.6,1103.8 1128.7,991.5 1129.8,1095.3 1130.9,962.4 1132.0,988.4 1133.1,891.3 1134.2,956.2 1135.3,1013.6 1136.4,982.1 1137.5,993.3 1138.6,1047.5 1139.7,1097.9 1140.8,942.8 1141.9,922.5 1143.0,1030.1 1144.1,1017.5 1145.2,1031.5 1146.3,947.5 1147.4,937.7 1148.5,1057.0 1149.6,1022.8 1150.7,1035.1 1151.8,990.3 1152.9,960.3 1154.0,945.0 1155.1,1019.2 1156.2,1065.1 1157.3,972.7 1158.4,969.8 1159.5,1024.0 1160.6,993.3 1161.7,982.7 1162.8,955.0 1163.9,999.0 1165.0,975.8 1166.1,993.0 1167.2,1064.4 1168.3,964.4 1169.4,997.7 1170.5,946.5 1171.6,1080.2 1172.7,1047.0 1173.8,985.1 1174.9,1120.7 1176.0,1011.7 1177.1,1031.0 1178.2,1029.0 1179.3,1019.0 1180.4,1165.2 1181.5,1001.7 1182.6,999.9 1183.7,947.4 1184.8,928.1 1185.9,984.2 1187.0,953.9 1188.1,1181.4 1189.2,973.9 1190.3,945.0 1191.4,957.0 1192.5,991.2 1193.6,1026.3 1194.7,1026.9 1195.8,1003.7 1196.9,980.8 1198.0,973.1 1199.1,1010.8 1200.2,1087.3 1201.3,911.2 1202.4,1059.9 1203.5,1211.6 1204.6,930.0 1205.7,950.5 1206.8,994.9 1207.9,952.7 1209.0,980.7 1210.1,1058.3 1211.2,999.3 1212.3,1086.8 1213.4,1046.4 1214.5,1060.9 1215.6,997.3 1216.7,948.6 1217.8,1046.4 1218.9,980.4 1220.0,1159.9 1221.1,1075.6 1222.2,976.5 1223.3,954.4 1224.4,955.2 1225.5,948.8 1226.6,1118.7 1227.7,1039.0 1228.8,1203.8 1229.9,1016.5 1231.0,993.7 1232.1,1027.9 1233.2,1066.4 1234.3,983.1 1235.4,977.5 1236.5,999.9 1237.6,1045.0 1238.7,1005.3 1239.8,1002.9 1240.9,992.5 1242.0,973.1 1243.1,1009.7 1244.2,1104.9 1245.3,1024.7 1246.4,987.0 1247.5,1035.2 1248.6,995.8 1249.7,1051.2 1250.8,936.6 1251.9,985.6 1253.0,1000.6 1254.1,966.6 1255.2,966.3 1256.3,1003.7 1257.4,954.1 1258.5,972.3 1259.6,996.7 1260.7,1009.1 1261.8,1081.2 1262.9,998.1 1264.0,999.1 1265.1,1062.3 1266.2,936.6 1267.3,1009.9 1268.4,1079.2 1269.5,1035.3 1270.6,1012.4 1271.7,1012.0 1272.8,1059.2 1273.9,1008.0 1275.0,1108.3 1276.1,1036.5 1277.2,985.4 1278.3,1052.5 1279.4,974.0 1280.5,965.8 1281.6,1047.5 1282.7,1190.9 1283.8,961.9 1284.9,938.3 1286.0,1119.6 1287.1,998.7 1288.2,992.1 1289.3,1121.8 1290.4,1044.3 1291.5,943.2 1292.6,997.8 1293.7,1009.6 1294.8,947.6 1295.9,1047.1 1297.0,1136.4 1298.1,938.0 1299.2,1059.8 1300.3,1010.7 1301.4,947.2 1302.5,994.1 1303.6,1000.5 1304.7,1047.9 1305.8,977.4 1306.9,898.3 1308.0,1045.8 1309.1,1082.6 1310.2,992.6 1311.3,1055.9 1312.4,1002.8 1313.5,1008.8 1314.6,982.0 1315.7,998.6 1316.8,992.1 1317.9,941.7 1319.0,1072.3 1320.1,1007.4 1321.2,991.7 1322.3,1090.2 1323.4,1070.9 1324.5,1030.6 1325.6,1043.5 1326.7,949.6 1327.8,1002.9 1328.9,867.4 1330.0,1033.5 1331.1,1029.6 1332.2,896.3 1333.3,1045.5 1334.4,899.0 1335.5,1236.7 1336.6,1052.3 1337.7,936.0 1338.8,926.8 1339.9,984.9 1341.0,1051.5 1342.1,1019.4 1343.2,967.6 1344.3,992.8 1345.4,958.6 1346.5,1056.4 1347.6,964.8 1348.7,941.9 1349.8,861.4 1350.9,970.5 1352.0,971.5 1353.1,1064.6 1354.2,1100.3 1355.3,1180.5 1356.4,984.9 1357.5,907.0 1358.6,1017.3 1359.7,1200.2 1360.8,1000.3 1361.9,1024.0 1363.0,1034.5 1364.1,919.5 1365.2,944.6 1366.3,932.0 1367.4,1061.7 1368.5,990.8 1369.6,1083.1 1370.7,949.3 1371.8,1084.7 1372.9,943.6 1374.0,997.3 1375.1,998.5 1376.2,1108.9 1377.3,972.2 1378.4,1140.1 1379.5,1094.6 1380.6,1072.5 1381.7,906.0 1382.8,1006.3 1383.9,1055.5 1385.0,982.9 1386.1,892.6 1387.2,1022.5 1388.3,1081.9 1389.4,1086.1 1390.5,1016.7 1391.6,924.8 1392.7,1022.0 1393.8,1028.2 1394.9,1078.0 1396.0,1088.9 1397.1,956.5 1398.2,994.0 1399.3,990.3 1400.4,1107.1 1401.5,982.4 1402.6,995.8 1403.7,933.4 1404.8,956.2 1405.9,1029.3 1407.0,995.8 1408.1,996.6 1409.2,1021.2 1410.3,1071.7 1411.4,965.3 1412.5,899.8 1413.6,1021.5 1414.7,928.3 1415.8,1035.9 1416.9,1037.1 1418.0,1017.8 1419.1,1034.5 1420.2,962.1 1421.3,952.5 1422.4,1216.8 1423.5,970.6 1424.6,993.6 1425.7,924.0 1426.8,1074.6 1427.9,1009.0 1429.0,950.0 1430.1,966.6 1431.2,934.5 1432.3,1067.1 1433.4,1059.8 1434.5,983.3 1435.6,1110.4 1436.7,991.4 1437.8,965.0 1438.9,997.3 1440.0,1109.0 1441.1,1054.0 1442.2,1037.4 1443.3,993.7 1444.4,1003.6 1445.5,1045.4 1446.6,1137.1 1447.7,1149.8 1448.8,1085.8 1449.9,1088.1 1451.0,1060.3 1452.1,1091.8 1453.2,1029.9 1454.3,1059.6 1455.4,1009.4 1456.5,1021.6 1457.6,987.1 1458.7,1085.1 1459.8,1079.9 1460.9,1096.3 1462.0,1016.5 1463.1,980.2 1464.2,957.8 1465.3,1012.1 1466.4,1030.7 1467.5,979.8 1468.6,1025.3 1469.7,1088.7 1470.8,979.9 1471.9,1049.0 1473.0,1125.5 1474.1,1034.2 1475.2,1076.9 1476.3,1025.4 1477.4,1069.5 1478.5,1043.4 1479.6,1062.1 1480.7,1030.8 1481.8,990.0 1482.9,1008.9 1484.0,1023.6 1485.1,966.1 1486.2,1117.3 1487.3,1013.7 1488.4,958.6 1489.5,991.3 1490.6,961.1 1491.7,1085.1 1492.8,960.1 1493.9,1069.4 1495.0,961.0 1496.1,1009.1 1497.2,975.4 1498.3,1075.2 1499.4,1037.8 1500.5,1158.1 1501.6,1003.1 1502.7,981.6 1503.8,1002.0 1504.9,960.6 1506.0,988.1 1507.1,1015.1 1508.2,990.6 1509.3,1057.1 1510.4,970.3 1511.5,1006.2 1512.6,1002.7 1513.7,1030.7 1514.8,1059.0 1515.9,1084.6 1517.0,1039.4 1518.1,981.4 1519.2,1148.3 1520.3,1015.0 1521.4,851.1 1522.5,1008.4 1523.6,1030.1 1524.7,997.7 1525.8,1028.3 1526.9,1013.4 1528.0,1010.0 1529.1,1083.5 1530.2,953.3 1531.3,1006.3 1532.4,957.5 1533.5,1008.9 1534.6,959.9 1535.7,1015.3 1536.8,869.6 1537.9,955.3 1539.0,946.4 1540.1,1021.5 1541.2,1122.7 1542.3,1037.0 1543.4,988.3 1544.5,1009.7 1545.6,1053.1 1546.7,1065.2 1547.8,1099.6 1548.9,1046.7 1550.0,983.4 1551.1,981.8 1552.2,983.3 1553.3,1031.3 1554.4,1009.1 1555.5,1021.3 1556.6,996.3 1557.7,1004.4 1558.8,986.6 1559.9,1029.7 1561.0,1027.0 1562.1,947.3 1563.2,952.9 1564.3,1178.8 1565.4,1003.9 1566.5,1004.4 1567.6,978.1 1568.7,1184.9 1569.8,1146.4 1570.9,1054.9 1572.0,1022.5 1573.1,1105.8 1574.2,966.9 1575.3,972.4 1576.4,992.6 1577.5,982.8 1578.6,1108.9 1579.7,1040.0 1580.8,1211.4 1581.9,976.0 1583.0,967.3 1584.1,1008.0 1585.2,1098.3 1586.3,1029.5 1587.4,977.2 1588.5,1115.6 1589.6,1018.3 1590.7,990.5 1591.8,1081.4 1592.9,1067.5 1594.0,965.3 1595.1,987.9 1596.2,953.4 1597.3,1015.3 1598.4,1095.2 1599.5,1034.1 1600.6,1071.0 1601.7,1046.8 1602.8,1002.6 1603.9,948.8 1605.0,1021.1 1606.1,931.1 1607.2,1119.8 1608.3,1041.8 1609.4,1028.2 1610.5,1188.0 1611.6,1144.1 1612.7,1050.8 1613.8,1023.3 1614.9,1004.7 1616.0,1025.3 1617.1,1048.9 1618.2,1123.8 1619.3,1027.5 1620.4,943.6 1621.5,1004.3 1622.6,1074.7 1623.7,1022.1 1624.8,1005.3 1625.9,961.0 1627.0,1065.0 1628.1,1001.2 1629.2,1327.9 1630.3,1049.2 1631.4,1036.4 1632.5,1056.8 1633.6,1026.7 1634.7,1015.0 1635.8,1112.6 1636.9,1039.6 1638.0,948.1 1639.1,1031.4 1640.2,1166.1 1641.3,951.7 1642.4,1045.2 1643.5,1020.8 1644.6,1000.1 1645.7,1056.0 1646.8,1098.6 1647.9,1078.3 1649.0,1015.3 1650.1,1031.9 1651.2,1049.0 1652.3,919.5 1653.4,1016.4 1654.5,976.9 1655.6,920.3 1656.7,1022.9 1657.8,1056.1 1658.9,1046.9 1660.0,1023.7 1661.1,935.1 1662.2,971.2 1663.3,1043.6 1664.4,1067.0 1665.5,987.8 1666.6,934.2 1667.7,1068.0 1668.8,944.5 1669.9,1011.6 1671.0,1029.6 1672.1,1045.7 1673.2,1073.5 1674.3,1059.6 1675.4,962.0 1676.5,1127.1 1677.6,1057.8 1678.7,1033.4 1679.8,1107.6 1680.9,1061.6 1682.0,1128.9 1683.1,995.4 1684.2,994.5 1685.3,1126.8 1686.4,955.0 1687.5,1099.4 1688.6,1172.4 1689.7,1161.2 1690.8,1006.8 1691.9,1217.0 1693.0,1040.6 1694.1,1020.5 1695.2,979.0 1696.3,1056.2 1697.4,969.9 1698.5,1061.4 1699.6,983.2 1700.7,1101.1 1701.8,1017.7 1702.9,1055.7 1704.0,1025.0 1705.1,919.6 1706.2,1036.0 1707.3,1033.0 1708.4,1027.9 1709.5,1016.1 1710.6,1205.6 1711.7,993.0 1712.8,1130.8 1713.9,1187.8 1715.0,1030.1 1716.1,1122.0 1717.2,1022.6 1718.3,974.1 1719.4,1035.7 1720.5,1105.0 1721.6,1030.9 1722.7,928.0 1723.8,1033.2 1724.9,941.0 1726.0,956.0 1727.1,1119.5 1728.2,985.5 1729.3,1130.3 1730.4,1004.2 1731.5,1004.2 1732.6,1049.3 1733.7,1151.7 1734.8,1061.4 1735.9,1059.2 1737.0,1009.7 1738.1,1042.5 1739.2,1007.8 1740.3,1058.7 1741.4,1156.0 1742.5,1041.0 1743.6,960.4 1744.7,1096.9 1745.8,1109.6 1746.9,1185.6 1748.0,938.0 1749.1,1112.4 1750.2,978.3 1751.3,1029.7 1752.4,1047.7 1753.5,1034.9 1754.6,937.9 1755.7,945.5 1756.8,1008.8 1757.9,1067.4 1759.0,957.7 1760.1,998.6 1761.2,1032.6 1762.3,1008.7 1763.4,1090.4 1764.5,996.2 1765.6,1057.0 1766.7,1054.6 1767.8,1120.3 1768.9,1033.6 1770.0,1014.4 1771.1,1146.0 1772.2,1020.8 1773.3,1013.4 1774.4,966.2 1775.5,975.1 1776.6,1327.9 1777.7,970.5 1778.8,1009.6 1779.9,1053.9 1781.0,1092.0 1782.1,988.1 1783.2,992.0 1784.3,1070.6 1785.4,1020.9 1786.5,1067.2 1787.6,1092.5 1788.7,1103.1 1789.8,1003.7 1790.9,1021.9 1792.0,1018.3 1793.1,1026.8 1794.2,1037.3 1795.3,987.5 1796.4,1161.0 1797.5,994.0 1798.6,1120.6 1799.7,1054.4 1800.8,1034.6 1801.9,1040.4 1803.0,1014.8 1804.1,1101.9 1805.2,949.6 1806.3,979.7 1807.4,1011.0 1808.5,1000.0 1809.6,1067.8 1810.7,1172.3 1811.8,1154.0 1812.9,1014.1 1814.0,1260.9 1815.1,956.3 1816.2,1017.1 1817.3,1107.3 1818.4,1079.1 1819.5,1160.0 1820.6,1050.8 1821.7,1020.4 1822.8,974.7 1823.9,1134.0 1825.0,982.1 1826.1,1030.1 1827.2,1049.2 1828.3,1041.9 1829.4,1021.6 1830.5,943.2 1831.6,960.7 1832.7,995.6 1833.8,1093.7 1834.9,1058.6 1836.0,991.8 1837.1,1021.6 1838.2,1097.3 1839.3,943.6 1840.4,918.0 1841.5,1012.2 1842.6,1067.0 1843.7,1043.8 1844.8,1114.0 1845.9,1127.0 1847.0,1023.7 1848.1,1059.3 1849.2,990.4 1850.3,894.8 1851.4,1015.4 1852.5,1043.6 1853.6,1033.2 1854.7,1016.6 1855.8,960.8 1856.9,1031.4 1858.0,992.5 1859.1,1113.3 1860.2,1106.2 1861.3,1054.3 1862.4,988.5 1863.5,1104.0 1864.6,968.9 1865.7,1104.2 1866.8,1030.4 1867.9,1044.0 1869.0,953.9 1870.1,1105.8 1871.2,1099.7 1872.3,1058.9 1873.4,998.5 1874.5,1000.8 1875.6,1127.0 1876.7,1094.6 1877.8,1130.8 1878.9,947.6 1880.0,1016.1 1881.1,1003.6 1882.2,1209.1 1883.3,1028.1 1884.4,1057.0 1885.5,986.1 1886.6,1159.5 1887.7,962.3 1888.8,1000.6 1889.9,1003.6 1891.0,1122.8 1892.1,933.1 1893.2,1022.2 1894.3,1018.8 1895.4,1035.5 1896.5,1055.5 1897.6,1027.1 1898.7,1026.9 1899.8,975.0 1900.9,1004.8 1902.0,1084.1 1903.1,1025.3 1904.2,981.5 1905.3,1078.8 1906.4,1042.8 1907.5,973.7 1908.6,1011.2 1909.7,1070.1 1910.8,1002.5 1911.9,982.6 1913.0,997.0 1914.1,1026.6 1915.2,936.4 1916.3,1134.8 1917.4,1018.0 1918.5,1000.8 1919.6,1099.6 1920.7,1089.8 1921.8,1086.3 1922.9,1031.5 1924.0,1046.8 1925.1,1009.2 1926.2,970.8 1927.3,1081.2 1928.4,1035.3 1929.5,1017.2 1930.6,1193.9 1931.7,1057.5 1932.8,1171.5" fill="none" stroke="#800000" stroke-width="3.55" stroke-linejoin="round" stroke-linecap="round"/>
<polyline points="456.6,1327.9 456.6,167.2 457.7,169.9 458.8,184.4 459.9,211.5 461.0,248.0 462.1,204.1 463.2,210.5 464.3,261.5 465.4,218.4 466.5,259.9 467.6,218.6 468.7,258.6 469.8,282.6 470.9,263.2 472.0,290.6 473.1,298.1 474.2,307.0 475.3,319.3 476.4,312.3 477.5,316.8 478.6,333.5 479.7,313.6 480.8,385.6 481.9,373.8 483.0,351.3 484.1,398.3 485.2,344.7 486.3,365.9 487.4,389.2 488.5,378.0 489.6,406.9 490.7,432.0 491.8,382.2 492.9,383.6 494.0,405.2 495.1,411.7 496.2,467.2 497.3,437.9 498.4,432.5 499.5,419.5 500.6,396.0 501.7,442.4 502.8,451.4 503.9,412.5 505.0,440.2 506.1,474.3 507.2,413.5 508.3,466.0 509.4,460.9 510.5,475.8 511.6,443.0 512.7,428.4 513.8,466.8 514.9,450.7 516.0,476.0 517.1,411.6 518.2,433.5 519.3,489.4 520.4,463.4 521.5,456.3 522.6,472.3 523.7,507.4 524.8,492.4 525.9,470.4 527.0,478.9 528.1,515.7 529.2,481.4 530.3,522.9 531.4,558.5 532.5,492.4 533.6,473.4 534.7,487.8 535.8,462.8 536.9,457.1 538.0,494.0 539.1,523.1 540.2,507.5 541.3,550.0 542.4,509.8 543.5,512.6 544.6,506.5 545.7,483.2 546.8,579.0 547.9,494.7 549.0,532.1 550.1,495.9 551.2,513.8 552.3,550.2 553.4,496.5 554.5,543.3 555.6,507.9 556.7,540.9 557.8,538.5 558.9,522.3 560.0,475.3 561.1,508.0 562.2,529.0 563.3,484.1 564.4,529.5 565.5,540.1 566.6,561.6 567.7,528.5 568.8,530.9 569.9,555.8 571.0,597.1 572.1,541.4 573.2,534.8 574.3,551.0 575.4,569.3 576.5,573.9 577.6,556.2 578.7,503.8 579.8,538.5 580.9,595.9 582.0,525.9 583.1,559.0 584.2,481.9 585.3,556.4 586.4,549.5 587.5,542.7 588.6,540.7 589.7,548.4 590.8,549.2 591.9,558.2 593.0,569.4 594.1,564.6 595.2,591.7 596.3,571.0 597.4,576.2 598.5,569.6 599.6,570.8 600.7,562.0 601.8,544.8 602.9,568.8 604.0,557.1 605.1,552.4 606.2,571.2 607.3,566.6 608.4,552.0 609.5,620.3 610.6,544.5 611.7,580.1 612.8,658.0 613.9,550.3 615.0,606.8 616.1,541.2 617.2,601.0 618.3,576.2 619.4,550.0 620.5,597.0 621.6,604.5 622.7,576.2 623.8,532.3 624.9,540.7 626.0,532.6 627.1,563.1 628.2,560.5 629.3,543.7 630.4,559.1 631.5,603.9 632.6,553.8 633.7,594.6 634.8,606.2 635.9,575.2 637.0,582.8 638.1,553.8 639.2,572.5 640.3,595.9 641.4,584.4 642.5,601.8 643.6,594.2 644.7,545.4 645.8,571.7 646.9,597.6 648.0,596.4 649.1,606.2 650.2,593.0 651.3,526.9 652.4,568.3 653.5,597.0 654.6,566.6 655.7,558.8 656.8,579.2 657.9,624.4 659.0,632.3 660.1,564.5 661.2,564.5 662.3,639.4 663.4,624.0 664.5,557.9 665.6,590.1 666.7,531.4 667.8,576.7 668.9,564.3 670.0,596.9 671.1,609.6 672.2,646.1 673.3,697.5 674.4,560.6 675.5,570.7 676.6,613.6 677.7,563.6 678.8,649.4 679.9,548.8 681.0,582.8 682.1,546.6 683.2,659.8 684.3,554.6 685.4,570.0 686.5,589.0 687.6,630.7 688.7,589.3 689.8,592.7 690.9,622.7 692.0,651.0 693.1,640.1 694.2,621.1 695.3,567.0 696.4,565.9 697.5,551.2 698.6,588.4 699.7,657.0 700.8,631.2 701.9,646.7 703.0,614.9 704.1,562.6 705.2,612.9 706.3,622.1 707.4,590.1 708.5,584.0 709.6,577.0 710.7,641.9 711.8,640.2 712.9,625.3 714.0,585.5 715.1,603.8 716.2,645.3 717.3,551.4 718.4,630.5 719.5,616.1 720.6,615.6 721.7,641.7 722.8,614.2 723.9,611.5 725.0,604.9 726.1,603.5 727.2,633.3 728.3,648.1 729.4,579.5 730.5,623.3 731.6,580.1 732.7,601.2 733.8,534.1 734.9,620.6 736.0,679.5 737.1,628.9 738.2,578.4 739.3,557.7 740.4,562.4 741.5,596.3 742.6,567.2 743.7,654.8 744.8,639.0 745.9,652.7 747.0,599.0 748.1,576.6 749.2,618.0 750.3,605.3 751.4,635.8 752.5,632.7 753.6,615.6 754.7,570.1 755.8,604.2 756.9,603.0 758.0,585.2 759.1,599.2 760.2,647.0 761.3,565.3 762.4,626.3 763.5,621.2 764.6,624.8 765.7,601.9 766.8,630.2 767.9,610.2 769.0,567.6 770.1,651.8 771.2,694.8 772.3,581.7 773.4,615.0 774.5,601.5 775.6,600.9 776.7,638.1 777.8,619.1 778.9,691.4 780.0,629.1 781.1,623.5 782.2,670.3 783.3,652.2 784.4,631.8 785.5,616.6 786.6,634.2 787.7,532.2 788.8,603.3 789.9,601.2 791.0,696.9 792.1,643.7 793.2,622.5 794.3,775.5 795.4,622.0 796.5,650.8 797.6,661.0 798.7,632.2 799.8,627.5 800.9,641.3 802.0,632.3 803.1,598.2 804.2,613.7 805.3,603.4 806.4,610.6 807.5,627.4 808.6,643.2 809.7,571.5 810.8,626.6 811.9,604.6 813.0,653.8 814.1,685.4 815.2,677.4 816.3,642.7 817.4,675.9 818.5,604.7 819.6,646.8 820.7,649.0 821.8,578.6 822.9,645.0 824.0,648.9 825.1,547.7 826.2,617.9 827.3,628.9 828.4,648.4 829.5,590.7 830.6,592.9 831.7,729.8 832.8,634.1 833.9,623.7 835.0,613.7 836.1,681.8 837.2,634.4 838.3,576.9 839.4,595.0 840.5,670.8 841.6,622.2 842.7,660.8 843.8,605.5 844.9,755.4 846.0,603.1 847.1,624.7 848.2,598.0 849.3,678.0 850.4,643.1 851.5,674.9 852.6,617.0 853.7,626.2 854.8,570.7 855.9,607.8 857.0,722.7 858.1,622.9 859.2,629.7 860.3,599.3 861.4,610.7 862.5,663.2 863.6,645.4 864.7,597.0 865.8,662.6 866.9,629.7 868.0,674.1 869.1,597.5 870.2,596.8 871.3,633.4 872.4,672.1 873.5,654.6 874.6,644.0 875.7,649.6 876.8,628.2 877.9,694.8 879.0,686.9 880.1,674.2 881.2,609.6 882.3,684.5 883.4,634.7 884.5,610.2 885.6,697.0 886.7,717.9 887.8,715.7 888.9,624.7 890.0,629.0 891.1,651.0 892.2,682.8 893.3,641.9 894.4,704.4 895.5,627.7 896.6,643.3 897.7,644.9 898.8,596.4 899.9,685.1 901.0,688.3 902.1,629.9 903.2,607.1 904.3,682.3 905.4,685.7 906.5,652.2 907.6,625.4 908.7,675.0 909.8,612.7 910.9,576.0 912.0,650.6 913.1,667.0 914.2,574.8 915.3,699.4 916.4,608.1 917.5,611.8 918.6,707.8 919.7,624.0 920.8,598.4 921.9,663.8 923.0,745.3 924.1,679.1 925.2,584.4 926.3,689.6 927.4,614.0 928.5,699.6 929.6,668.5 930.7,678.8 931.8,654.2 932.9,632.3 934.0,647.8 935.1,683.3 936.2,652.8 937.3,656.4 938.4,664.8 939.5,671.5 940.6,676.1 941.7,640.6 942.8,578.8 943.9,648.2 945.0,642.0 946.1,684.2 947.2,672.7 948.3,601.4 949.4,664.0 950.5,635.6 951.6,621.1 952.7,673.4 953.8,613.1 954.9,625.5 956.0,630.4 957.1,685.0 958.2,646.9 959.3,730.6 960.4,648.7 961.5,647.9 962.6,668.7 963.7,640.0 964.8,709.3 965.9,680.4 967.0,712.5 968.1,650.4 969.2,672.1 970.3,619.0 971.4,685.2 972.5,636.9 973.6,656.3 974.7,645.3 975.8,629.4 976.9,603.1 978.0,609.7 979.1,710.5 980.2,638.5 981.3,697.8 982.4,646.4 983.5,691.5 984.6,623.6 985.7,629.8 986.8,656.2 987.9,697.7 989.0,723.6 990.1,714.7 991.2,670.0 992.3,637.9 993.4,625.9 994.5,623.0 995.6,696.3 996.7,663.1 997.8,629.7 998.9,641.0 1000.0,665.4 1001.1,712.2 1002.2,600.0 1003.3,664.5 1004.4,729.0 1005.5,649.0 1006.6,653.4 1007.7,668.8 1008.8,666.1 1009.9,711.5 1011.0,616.0 1012.1,667.0 1013.2,743.3 1014.3,673.8 1015.4,780.7 1016.5,656.7 1017.6,694.2 1018.7,651.6 1019.8,635.5 1020.9,664.5 1022.0,581.3 1023.1,654.9 1024.2,638.8 1025.3,658.5 1026.4,669.5 1027.5,689.5 1028.6,619.9 1029.7,633.4 1030.8,606.1 1031.9,682.1 1033.0,688.4 1034.1,667.4 1035.2,657.2 1036.3,664.2 1037.4,736.7 1038.5,664.5 1039.6,651.3 1040.7,643.6 1041.8,672.1 1042.9,661.0 1044.0,619.8 1045.1,616.1 1046.2,656.6 1047.3,659.7 1048.4,658.8 1049.5,629.3 1050.6,653.4 1051.7,653.5 1052.8,610.6 1053.9,682.2 1055.0,699.1 1056.1,663.9 1057.2,598.8 1058.3,641.0 1059.4,722.6 1060.5,629.1 1061.6,652.6 1062.7,650.2 1063.8,722.8 1064.9,687.0 1066.0,682.2 1067.1,632.0 1068.2,695.3 1069.3,696.6 1070.4,722.2 1071.5,634.9 1072.6,677.6 1073.7,634.7 1074.8,666.1 1075.9,640.5 1077.0,694.0 1078.1,640.9 1079.2,682.7 1080.3,690.8 1081.4,627.1 1082.5,711.0 1083.6,657.2 1084.7,649.4 1085.8,652.6 1086.9,659.5 1088.0,625.9 1089.1,686.9 1090.2,609.9 1091.3,611.5 1092.4,651.6 1093.5,664.8 1094.6,707.8 1095.7,697.9 1096.8,689.2 1097.9,655.6 1099.0,607.3 1100.1,726.1 1101.2,629.2 1102.3,656.3 1103.4,649.6 1104.5,656.1 1105.6,688.5 1106.7,676.3 1107.8,659.3 1108.9,621.8 1110.0,672.7 1111.1,614.8 1112.2,622.3 1113.3,671.4 1114.4,649.3 1115.5,618.9 1116.6,710.1 1117.7,695.0 1118.8,632.5 1119.9,634.8 1121.0,690.3 1122.1,701.6 1123.2,644.7 1124.3,619.0 1125.4,682.4 1126.5,700.1 1127.6,624.1 1128.7,634.6 1129.8,713.0 1130.9,699.8 1132.0,675.4 1133.1,629.4 1134.2,638.4 1135.3,665.5 1136.4,743.4 1137.5,583.0 1138.6,695.7 1139.7,607.8 1140.8,611.2 1141.9,644.7 1143.0,650.9 1144.1,697.0 1145.2,711.9 1146.3,703.4 1147.4,723.8 1148.5,672.7 1149.6,722.2 1150.7,618.1 1151.8,583.2 1152.9,772.3 1154.0,723.8 1155.1,644.4 1156.2,658.6 1157.3,680.3 1158.4,674.1 1159.5,653.0 1160.6,687.8 1161.7,644.8 1162.8,622.3 1163.9,621.7 1165.0,603.6 1166.1,657.1 1167.2,649.6 1168.3,738.8 1169.4,676.6 1170.5,706.5 1171.6,625.2 1172.7,601.9 1173.8,683.1 1174.9,684.3 1176.0,690.5 1177.1,672.2 1178.2,703.2 1179.3,636.2 1180.4,680.4 1181.5,612.2 1182.6,639.0 1183.7,683.4 1184.8,693.5 1185.9,637.1 1187.0,685.6 1188.1,741.2 1189.2,680.5 1190.3,704.5 1191.4,598.8 1192.5,672.5 1193.6,692.7 1194.7,769.6 1195.8,627.6 1196.9,651.6 1198.0,672.0 1199.1,680.2 1200.2,664.6 1201.3,643.3 1202.4,664.6 1203.5,690.8 1204.6,663.7 1205.7,768.5 1206.8,695.5 1207.9,687.2 1209.0,701.5 1210.1,681.0 1211.2,646.1 1212.3,678.0 1213.4,732.2 1214.5,661.5 1215.6,638.8 1216.7,638.4 1217.8,648.3 1218.9,634.1 1220.0,676.6 1221.1,791.6 1222.2,691.2 1223.3,723.2 1224.4,667.5 1225.5,648.3 1226.6,699.0 1227.7,639.0 1228.8,726.6 1229.9,650.6 1231.0,712.7 1232.1,702.0 1233.2,722.0 1234.3,663.6 1235.4,618.1 1236.5,696.5 1237.6,687.7 1238.7,654.3 1239.8,706.8 1240.9,672.1 1242.0,684.9 1243.1,711.6 1244.2,727.6 1245.3,636.1 1246.4,678.7 1247.5,706.9 1248.6,635.2 1249.7,673.2 1250.8,721.6 1251.9,721.8 1253.0,679.6 1254.1,700.6 1255.2,661.9 1256.3,726.7 1257.4,735.3 1258.5,684.0 1259.6,649.5 1260.7,694.3 1261.8,589.6 1262.9,598.8 1264.0,678.6 1265.1,709.8 1266.2,665.8 1267.3,693.2 1268.4,676.6 1269.5,658.2 1270.6,672.4 1271.7,753.2 1272.8,576.7 1273.9,706.1 1275.0,678.6 1276.1,648.8 1277.2,669.3 1278.3,668.0 1279.4,654.6 1280.5,719.3 1281.6,659.6 1282.7,640.1 1283.8,681.8 1284.9,630.1 1286.0,618.3 1287.1,682.0 1288.2,639.3 1289.3,664.8 1290.4,632.2 1291.5,684.6 1292.6,735.3 1293.7,640.0 1294.8,648.5 1295.9,659.0 1297.0,710.5 1298.1,697.9 1299.2,661.7 1300.3,673.5 1301.4,708.7 1302.5,681.8 1303.6,655.9 1304.7,706.4 1305.8,682.8 1306.9,705.9 1308.0,644.9 1309.1,681.5 1310.2,679.4 1311.3,643.2 1312.4,662.5 1313.5,696.7 1314.6,638.7 1315.7,736.5 1316.8,730.0 1317.9,665.3 1319.0,686.3 1320.1,636.9 1321.2,670.4 1322.3,673.3 1323.4,641.7 1324.5,699.7 1325.6,737.5 1326.7,653.0 1327.8,707.1 1328.9,662.7 1330.0,712.2 1331.1,685.3 1332.2,696.3 1333.3,711.4 1334.4,703.7 1335.5,662.4 1336.6,683.3 1337.7,658.3 1338.8,714.3 1339.9,709.6 1341.0,730.0 1342.1,585.0 1343.2,684.8 1344.3,686.6 1345.4,665.3 1346.5,644.5 1347.6,661.0 1348.7,689.6 1349.8,716.6 1350.9,627.4 1352.0,661.4 1353.1,768.4 1354.2,675.0 1355.3,646.8 1356.4,699.4 1357.5,666.1 1358.6,686.9 1359.7,668.6 1360.8,685.9 1361.9,663.4 1363.0,680.9 1364.1,662.8 1365.2,701.5 1366.3,664.2 1367.4,699.0 1368.5,759.7 1369.6,677.5 1370.7,677.8 1371.8,719.5 1372.9,635.9 1374.0,699.9 1375.1,657.9 1376.2,696.3 1377.3,676.8 1378.4,667.7 1379.5,647.0 1380.6,708.6 1381.7,733.1 1382.8,626.4 1383.9,680.9 1385.0,605.1 1386.1,686.7 1387.2,744.3 1388.3,669.7 1389.4,655.6 1390.5,670.2 1391.6,698.5 1392.7,667.3 1393.8,733.7 1394.9,740.4 1396.0,687.1 1397.1,656.7 1398.2,782.2 1399.3,672.3 1400.4,697.4 1401.5,719.4 1402.6,677.7 1403.7,686.7 1404.8,679.8 1405.9,657.7 1407.0,665.4 1408.1,643.9 1409.2,645.9 1410.3,707.5 1411.4,685.1 1412.5,772.1 1413.6,705.0 1414.7,746.3 1415.8,711.1 1416.9,692.0 1418.0,669.6 1419.1,703.8 1420.2,604.8 1421.3,682.9 1422.4,749.0 1423.5,619.8 1424.6,693.9 1425.7,697.8 1426.8,657.2 1427.9,709.1 1429.0,632.9 1430.1,617.3 1431.2,635.3 1432.3,675.9 1433.4,701.7 1434.5,656.3 1435.6,647.4 1436.7,663.3 1437.8,671.1 1438.9,630.8 1440.0,679.6 1441.1,727.7 1442.2,737.8 1443.3,668.2 1444.4,625.6 1445.5,678.3 1446.6,690.9 1447.7,705.7 1448.8,640.7 1449.9,741.1 1451.0,710.4 1452.1,629.4 1453.2,692.0 1454.3,684.9 1455.4,631.7 1456.5,636.6 1457.6,667.6 1458.7,634.5 1459.8,766.1 1460.9,724.5 1462.0,680.8 1463.1,723.7 1464.2,710.2 1465.3,719.5 1466.4,678.8 1467.5,715.2 1468.6,646.4 1469.7,681.3 1470.8,635.8 1471.9,747.0 1473.0,772.4 1474.1,687.6 1475.2,685.6 1476.3,657.3 1477.4,655.4 1478.5,706.2 1479.6,603.6 1480.7,694.2 1481.8,696.9 1482.9,649.3 1484.0,655.9 1485.1,679.0 1486.2,680.0 1487.3,611.8 1488.4,692.2 1489.5,683.0 1490.6,679.7 1491.7,709.9 1492.8,637.0 1493.9,624.8 1495.0,666.2 1496.1,765.5 1497.2,763.4 1498.3,683.8 1499.4,718.0 1500.5,713.5 1501.6,699.8 1502.7,716.3 1503.8,704.2 1504.9,692.5 1506.0,673.5 1507.1,680.9 1508.2,682.3 1509.3,808.0 1510.4,716.5 1511.5,642.2 1512.6,647.6 1513.7,626.9 1514.8,723.2 1515.9,715.6 1517.0,698.2 1518.1,652.1 1519.2,693.7 1520.3,679.9 1521.4,691.1 1522.5,688.7 1523.6,716.4 1524.7,665.3 1525.8,772.4 1526.9,696.4 1528.0,721.1 1529.1,686.5 1530.2,656.6 1531.3,709.4 1532.4,654.3 1533.5,694.3 1534.6,676.4 1535.7,697.0 1536.8,678.3 1537.9,642.1 1539.0,728.9 1540.1,727.3 1541.2,731.9 1542.3,754.8 1543.4,740.6 1544.5,646.4 1545.6,697.2 1546.7,665.2 1547.8,685.9 1548.9,622.9 1550.0,675.9 1551.1,683.7 1552.2,618.7 1553.3,741.5 1554.4,732.3 1555.5,722.0 1556.6,748.2 1557.7,693.8 1558.8,679.0 1559.9,639.7 1561.0,796.6 1562.1,654.0 1563.2,635.6 1564.3,724.4 1565.4,675.2 1566.5,630.4 1567.6,724.0 1568.7,684.9 1569.8,684.0 1570.9,707.0 1572.0,691.9 1573.1,720.2 1574.2,748.8 1575.3,665.4 1576.4,693.8 1577.5,657.9 1578.6,702.3 1579.7,719.8 1580.8,733.9 1581.9,737.7 1583.0,718.2 1584.1,679.2 1585.2,667.6 1586.3,673.0 1587.4,718.3 1588.5,680.8 1589.6,634.2 1590.7,696.8 1591.8,693.1 1592.9,667.9 1594.0,650.3 1595.1,736.6 1596.2,685.9 1597.3,662.5 1598.4,725.8 1599.5,675.8 1600.6,688.7 1601.7,689.5 1602.8,688.6 1603.9,681.8 1605.0,722.1 1606.1,744.5 1607.2,670.3 1608.3,652.8 1609.4,623.5 1610.5,704.8 1611.6,672.9 1612.7,695.8 1613.8,719.3 1614.9,679.2 1616.0,701.2 1617.1,692.8 1618.2,719.7 1619.3,736.4 1620.4,708.5 1621.5,644.3 1622.6,672.9 1623.7,662.7 1624.8,709.1 1625.9,745.9 1627.0,668.3 1628.1,710.0 1629.2,721.3 1630.3,728.5 1631.4,659.8 1632.5,646.6 1633.6,643.0 1634.7,619.5 1635.8,718.2 1636.9,716.3 1638.0,728.1 1639.1,627.6 1640.2,738.0 1641.3,684.0 1642.4,659.5 1643.5,778.6 1644.6,656.3 1645.7,649.0 1646.8,685.2 1647.9,730.3 1649.0,654.3 1650.1,673.1 1651.2,646.9 1652.3,711.2 1653.4,774.0 1654.5,691.6 1655.6,665.6 1656.7,757.1 1657.8,728.1 1658.9,746.8 1660.0,665.8 1661.1,783.1 1662.2,648.4 1663.3,738.1 1664.4,664.4 1665.5,707.9 1666.6,723.4 1667.7,712.8 1668.8,678.4 1669.9,718.8 1671.0,690.1 1672.1,719.2 1673.2,690.9 1674.3,697.2 1675.4,651.7 1676.5,758.8 1677.6,680.5 1678.7,680.4 1679.8,725.6 1680.9,736.6 1682.0,690.2 1683.1,660.6 1684.2,683.0 1685.3,667.9 1686.4,772.6 1687.5,634.9 1688.6,660.3 1689.7,719.5 1690.8,747.9 1691.9,681.4 1693.0,671.5 1694.1,704.6 1695.2,715.5 1696.3,680.4 1697.4,690.1 1698.5,664.6 1699.6,652.0 1700.7,708.3 1701.8,667.7 1702.9,735.3 1704.0,648.3 1705.1,765.9 1706.2,726.8 1707.3,717.9 1708.4,663.9 1709.5,733.0 1710.6,659.4 1711.7,684.7 1712.8,667.2 1713.9,636.9 1715.0,721.7 1716.1,705.7 1717.2,626.4 1718.3,671.1 1719.4,757.3 1720.5,657.2 1721.6,693.7 1722.7,679.6 1723.8,659.3 1724.9,717.2 1726.0,655.1 1727.1,670.6 1728.2,742.5 1729.3,750.4 1730.4,678.5 1731.5,662.6 1732.6,742.6 1733.7,660.5 1734.8,680.1 1735.9,644.8 1737.0,652.7 1738.1,740.7 1739.2,626.3 1740.3,738.9 1741.4,718.9 1742.5,739.7 1743.6,721.7 1744.7,705.4 1745.8,710.4 1746.9,709.7 1748.0,715.6 1749.1,747.7 1750.2,662.4 1751.3,682.8 1752.4,646.0 1753.5,710.9 1754.6,711.0 1755.7,700.2 1756.8,642.2 1757.9,698.6 1759.0,678.7 1760.1,670.9 1761.2,656.0 1762.3,764.8 1763.4,680.8 1764.5,727.7 1765.6,680.9 1766.7,687.5 1767.8,712.6 1768.9,605.1 1770.0,657.1 1771.1,731.4 1772.2,662.5 1773.3,657.9 1774.4,698.5 1775.5,703.9 1776.6,722.9 1777.7,761.0 1778.8,695.9 1779.9,717.3 1781.0,620.5 1782.1,729.1 1783.2,685.4 1784.3,668.6 1785.4,638.0 1786.5,666.2 1787.6,680.9 1788.7,649.3 1789.8,657.4 1790.9,696.5 1792.0,704.8 1793.1,752.7 1794.2,737.2 1795.3,815.0 1796.4,741.8 1797.5,729.4 1798.6,684.9 1799.7,776.1 1800.8,672.3 1801.9,656.2 1803.0,668.3 1804.1,691.7 1805.2,656.2 1806.3,701.6 1807.4,639.2 1808.5,742.2 1809.6,687.8 1810.7,723.9 1811.8,646.2 1812.9,658.5 1814.0,647.5 1815.1,692.8 1816.2,669.3 1817.3,695.7 1818.4,756.9 1819.5,672.9 1820.6,694.6 1821.7,718.2 1822.8,774.0 1823.9,678.2 1825.0,712.7 1826.1,774.0 1827.2,740.0 1828.3,695.9 1829.4,699.2 1830.5,686.4 1831.6,640.2 1832.7,726.3 1833.8,749.7 1834.9,745.2 1836.0,778.7 1837.1,681.0 1838.2,676.8 1839.3,616.3 1840.4,684.4 1841.5,679.8 1842.6,740.4 1843.7,737.8 1844.8,664.4 1845.9,662.3 1847.0,696.3 1848.1,734.3 1849.2,683.8 1850.3,685.5 1851.4,725.6 1852.5,678.0 1853.6,733.6 1854.7,741.4 1855.8,729.8 1856.9,722.0 1858.0,685.4 1859.1,680.1 1860.2,636.1 1861.3,672.1 1862.4,782.2 1863.5,713.8 1864.6,736.6 1865.7,668.2 1866.8,665.3 1867.9,692.4 1869.0,749.7 1870.1,717.2 1871.2,700.8 1872.3,668.9 1873.4,634.4 1874.5,741.5 1875.6,700.7 1876.7,772.6 1877.8,789.6 1878.9,652.3 1880.0,706.8 1881.1,698.3 1882.2,655.7 1883.3,697.2 1884.4,672.5 1885.5,709.3 1886.6,691.8 1887.7,667.8 1888.8,725.1 1889.9,817.1 1891.0,660.2 1892.1,734.6 1893.2,651.1 1894.3,643.0 1895.4,655.3 1896.5,717.1 1897.6,798.8 1898.7,688.7 1899.8,652.9 1900.9,705.4 1902.0,738.3 1903.1,700.8 1904.2,642.5 1905.3,680.6 1906.4,674.2 1907.5,666.6 1908.6,719.9 1909.7,685.3 1910.8,676.4 1911.9,712.6 1913.0,727.1 1914.1,646.0 1915.2,627.8 1916.3,653.9 1917.4,688.1 1918.5,657.8 1919.6,667.6 1920.7,682.5 1921.8,725.6 1922.9,712.8 1924.0,651.9 1925.1,703.8 1926.2,660.4 1927.3,695.1 1928.4,736.5 1929.5,736.7 1930.6,712.1 1931.7,726.3 1932.8,704.6" fill="none" stroke="#000080" stroke-width="3.55" stroke-linejoin="round" stroke-linecap="round"/>
</g>
<g font-size="66.7">
<text transform="translate(0,184.2) scale(1,1.04)" x="247.47" y="0">1</text>
<text transform="translate(0,764.5) scale(1,1.04)" x="190.28 227.37 247.47" y="0">0,1</text>
<text transform="translate(0,1344.9) scale(1,1.04)" x="153.18 190.28 208.81 247.47" y="0">0,01</text>
<text transform="translate(0,1419.3) scale(1,1.04)" x="438.05" y="0">0</text>
<text transform="translate(0,1419.3) scale(1,1.04)" x="689.47 725.00" y="0">10</text>
<text transform="translate(0,1419.3) scale(1,1.04)" x="956.30 993.40" y="0">20</text>
<text transform="translate(0,1419.3) scale(1,1.04)" x="1224.70 1261.80" y="0">30</text>
<text transform="translate(0,1419.3) scale(1,1.04)" x="1493.10 1530.20" y="0">40</text>
<text transform="translate(0,1419.3) scale(1,1.04)" x="1761.50 1798.60" y="0">50</text>
</g>
<g fill="#fff">
<rect x="249.48" y="176.43" width="13.54" height="9.27"/>
<rect x="272.15" y="176.43" width="12.67" height="9.27"/>
<rect x="249.48" y="756.78" width="13.54" height="9.27"/>
<rect x="272.15" y="756.78" width="12.67" height="9.27"/>
<rect x="249.48" y="1337.13" width="13.54" height="9.27"/>
<rect x="272.15" y="1337.13" width="12.67" height="9.27"/>
<rect x="691.48" y="1411.53" width="13.54" height="9.27"/>
<rect x="714.15" y="1411.53" width="12.67" height="9.27"/>
</g>
<text x="1127.5" y="1560" font-size="92" text-anchor="middle">Time (ns)</text>
<text transform="translate(107,685) rotate(-90)" font-size="95" text-anchor="middle">Normalized PL Intensity</text>
<g font-size="66.9">
<line x1="1727.1" y1="59.8" x2="1857.4" y2="59.8" stroke="#C0C0C0" stroke-width="3.45"/>
<text x="1876.6" y="79.0">a-Cit-CDs</text>
<line x1="1727.1" y1="144.9" x2="1857.4" y2="144.9" stroke="#000000" stroke-width="3.45"/>
<text x="1876.6" y="164.2">g-Cit-CDs</text>
<line x1="1727.1" y1="230.2" x2="1857.4" y2="230.2" stroke="#FF0000" stroke-width="3.45"/>
<text x="1876.6" y="249.5">a-Glu-CDs</text>
<line x1="1727.1" y1="315.4" x2="1857.4" y2="315.4" stroke="#0000FF" stroke-width="3.45"/>
<text x="1876.6" y="334.7">a-Fru-CDs</text>
<line x1="1727.1" y1="400.6" x2="1857.4" y2="400.6" stroke="#800000" stroke-width="3.45"/>
<text x="1876.6" y="419.9">g-Glu-CDs</text>
<line x1="1727.1" y1="485.8" x2="1857.4" y2="485.8" stroke="#000080" stroke-width="3.45"/>
<text x="1876.6" y="505.1">g-Fru-CDs</text>
</g>
</svg></body></html>
